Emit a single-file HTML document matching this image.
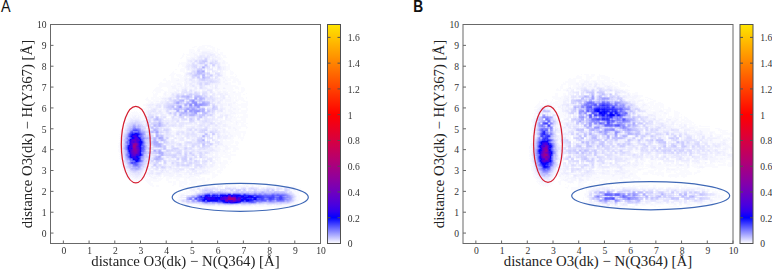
<!DOCTYPE html>
<html><head><meta charset="utf-8"><style>
html,body{margin:0;padding:0;background:#fff;width:772px;height:270px;overflow:hidden}
svg{display:block}
.tl{font-family:"Liberation Serif",serif;font-size:9.6px;fill:#333}
.at{font-family:"Liberation Serif",serif;font-size:14.8px;fill:#222}
.pl{font-family:"Liberation Sans",sans-serif;font-size:16px;fill:#111}
</style></head><body>
<svg width="772" height="270" viewBox="0 0 772 270">
<defs><linearGradient id="cbg" x1="0" y1="1" x2="0" y2="0"><stop offset="0.0000" stop-color="rgb(255,255,255)"/><stop offset="0.0294" stop-color="rgb(191,191,255)"/><stop offset="0.0588" stop-color="rgb(128,128,255)"/><stop offset="0.0882" stop-color="rgb(64,64,255)"/><stop offset="0.1176" stop-color="rgb(0,0,255)"/><stop offset="0.1471" stop-color="rgb(48,0,239)"/><stop offset="0.1765" stop-color="rgb(73,0,223)"/><stop offset="0.2059" stop-color="rgb(93,0,207)"/><stop offset="0.2353" stop-color="rgb(111,0,191)"/><stop offset="0.2647" stop-color="rgb(127,0,175)"/><stop offset="0.2941" stop-color="rgb(142,0,159)"/><stop offset="0.3235" stop-color="rgb(155,0,143)"/><stop offset="0.3529" stop-color="rgb(168,0,127)"/><stop offset="0.3824" stop-color="rgb(181,0,112)"/><stop offset="0.4118" stop-color="rgb(192,0,96)"/><stop offset="0.4412" stop-color="rgb(204,0,80)"/><stop offset="0.4706" stop-color="rgb(215,0,64)"/><stop offset="0.5000" stop-color="rgb(225,0,48)"/><stop offset="0.5294" stop-color="rgb(235,0,32)"/><stop offset="0.5588" stop-color="rgb(245,0,16)"/><stop offset="0.5882" stop-color="rgb(255,0,0)"/><stop offset="0.6176" stop-color="rgb(255,16,0)"/><stop offset="0.6471" stop-color="rgb(255,33,0)"/><stop offset="0.6765" stop-color="rgb(255,49,0)"/><stop offset="0.7059" stop-color="rgb(255,66,0)"/><stop offset="0.7353" stop-color="rgb(255,82,0)"/><stop offset="0.7647" stop-color="rgb(255,98,0)"/><stop offset="0.7941" stop-color="rgb(255,115,0)"/><stop offset="0.8235" stop-color="rgb(255,131,0)"/><stop offset="0.8529" stop-color="rgb(255,148,0)"/><stop offset="0.8824" stop-color="rgb(255,164,0)"/><stop offset="0.9118" stop-color="rgb(255,180,0)"/><stop offset="0.9412" stop-color="rgb(255,197,0)"/><stop offset="0.9706" stop-color="rgb(255,213,0)"/><stop offset="1.0000" stop-color="rgb(255,230,0)"/></linearGradient></defs>
<rect width="772" height="270" fill="#fff"/>
<defs><filter id="bl_16_16" x="-200%" y="-200%" width="500%" height="500%" color-interpolation-filters="sRGB"><feGaussianBlur stdDeviation="16 16"/></filter><filter id="bl_10_8" x="-200%" y="-200%" width="500%" height="500%" color-interpolation-filters="sRGB"><feGaussianBlur stdDeviation="10 8"/></filter><filter id="bl_8_8" x="-200%" y="-200%" width="500%" height="500%" color-interpolation-filters="sRGB"><feGaussianBlur stdDeviation="8 8"/></filter><filter id="bl_8_6" x="-200%" y="-200%" width="500%" height="500%" color-interpolation-filters="sRGB"><feGaussianBlur stdDeviation="8 6"/></filter><filter id="bl_5_5" x="-200%" y="-200%" width="500%" height="500%" color-interpolation-filters="sRGB"><feGaussianBlur stdDeviation="5 5"/></filter><filter id="bl_6_10" x="-200%" y="-200%" width="500%" height="500%" color-interpolation-filters="sRGB"><feGaussianBlur stdDeviation="6 10"/></filter><filter id="bl_5_0p01" x="-200%" y="-200%" width="500%" height="500%" color-interpolation-filters="sRGB"><feGaussianBlur stdDeviation="5 0.01"/></filter><filter id="bl_4_0p01" x="-200%" y="-200%" width="500%" height="500%" color-interpolation-filters="sRGB"><feGaussianBlur stdDeviation="4 0.01"/></filter><filter id="bl_6_0p01" x="-200%" y="-200%" width="500%" height="500%" color-interpolation-filters="sRGB"><feGaussianBlur stdDeviation="6 0.01"/></filter><filter id="bl_14_12" x="-200%" y="-200%" width="500%" height="500%" color-interpolation-filters="sRGB"><feGaussianBlur stdDeviation="14 12"/></filter><filter id="bl_16_12" x="-200%" y="-200%" width="500%" height="500%" color-interpolation-filters="sRGB"><feGaussianBlur stdDeviation="16 12"/></filter><filter id="bl_12_8" x="-200%" y="-200%" width="500%" height="500%" color-interpolation-filters="sRGB"><feGaussianBlur stdDeviation="12 8"/></filter><filter id="bl_10_10" x="-200%" y="-200%" width="500%" height="500%" color-interpolation-filters="sRGB"><feGaussianBlur stdDeviation="10 10"/></filter><filter id="bl_12_12" x="-200%" y="-200%" width="500%" height="500%" color-interpolation-filters="sRGB"><feGaussianBlur stdDeviation="12 12"/></filter><filter id="bl_9_8" x="-200%" y="-200%" width="500%" height="500%" color-interpolation-filters="sRGB"><feGaussianBlur stdDeviation="9 8"/></filter><filter id="bl_8_0p01" x="-200%" y="-200%" width="500%" height="500%" color-interpolation-filters="sRGB"><feGaussianBlur stdDeviation="8 0.01"/></filter></defs>
<defs><radialGradient id="a6"><stop offset="0.0000" stop-color="#fff" stop-opacity="0.3067"/><stop offset="0.0417" stop-color="#fff" stop-opacity="0.3059"/><stop offset="0.0833" stop-color="#fff" stop-opacity="0.3023"/><stop offset="0.1250" stop-color="#fff" stop-opacity="0.2947"/><stop offset="0.1667" stop-color="#fff" stop-opacity="0.2827"/><stop offset="0.2083" stop-color="#fff" stop-opacity="0.2660"/><stop offset="0.2500" stop-color="#fff" stop-opacity="0.2450"/><stop offset="0.2917" stop-color="#fff" stop-opacity="0.2205"/><stop offset="0.3333" stop-color="#fff" stop-opacity="0.1935"/><stop offset="0.3750" stop-color="#fff" stop-opacity="0.1653"/><stop offset="0.4167" stop-color="#fff" stop-opacity="0.1372"/><stop offset="0.4583" stop-color="#fff" stop-opacity="0.1105"/><stop offset="0.5000" stop-color="#fff" stop-opacity="0.0862"/><stop offset="0.5417" stop-color="#fff" stop-opacity="0.0651"/><stop offset="0.5833" stop-color="#fff" stop-opacity="0.0475"/><stop offset="0.6250" stop-color="#fff" stop-opacity="0.0334"/><stop offset="0.6667" stop-color="#fff" stop-opacity="0.0227"/><stop offset="0.7083" stop-color="#fff" stop-opacity="0.0148"/><stop offset="0.7500" stop-color="#fff" stop-opacity="0.0093"/><stop offset="0.7917" stop-color="#fff" stop-opacity="0.0056"/><stop offset="0.8333" stop-color="#fff" stop-opacity="0.0032"/><stop offset="0.8750" stop-color="#fff" stop-opacity="0.0018"/><stop offset="0.9167" stop-color="#fff" stop-opacity="0.0010"/><stop offset="0.9583" stop-color="#fff" stop-opacity="0.0005"/><stop offset="1.0000" stop-color="#fff" stop-opacity="0.0000"/></radialGradient><radialGradient id="a7"><stop offset="0.0000" stop-color="#fff" stop-opacity="0.4667"/><stop offset="0.0625" stop-color="#fff" stop-opacity="0.4585"/><stop offset="0.1250" stop-color="#fff" stop-opacity="0.4350"/><stop offset="0.1875" stop-color="#fff" stop-opacity="0.3984"/><stop offset="0.2500" stop-color="#fff" stop-opacity="0.3523"/><stop offset="0.3125" stop-color="#fff" stop-opacity="0.3007"/><stop offset="0.3750" stop-color="#fff" stop-opacity="0.2478"/><stop offset="0.4375" stop-color="#fff" stop-opacity="0.1972"/><stop offset="0.5000" stop-color="#fff" stop-opacity="0.1515"/><stop offset="0.5625" stop-color="#fff" stop-opacity="0.1124"/><stop offset="0.6250" stop-color="#fff" stop-opacity="0.0805"/><stop offset="0.6875" stop-color="#fff" stop-opacity="0.0556"/><stop offset="0.7500" stop-color="#fff" stop-opacity="0.0371"/><stop offset="0.8125" stop-color="#fff" stop-opacity="0.0239"/><stop offset="0.8750" stop-color="#fff" stop-opacity="0.0149"/><stop offset="0.9375" stop-color="#fff" stop-opacity="0.0089"/><stop offset="1.0000" stop-color="#fff" stop-opacity="0.0000"/></radialGradient><linearGradient id="a8" x1="0" y1="0" x2="0" y2="1"><stop offset="0.0000" stop-color="#fff" stop-opacity="0.0002"/><stop offset="0.0417" stop-color="#fff" stop-opacity="0.0009"/><stop offset="0.0833" stop-color="#fff" stop-opacity="0.0031"/><stop offset="0.1250" stop-color="#fff" stop-opacity="0.0089"/><stop offset="0.1667" stop-color="#fff" stop-opacity="0.0217"/><stop offset="0.2083" stop-color="#fff" stop-opacity="0.0454"/><stop offset="0.2500" stop-color="#fff" stop-opacity="0.0825"/><stop offset="0.2917" stop-color="#fff" stop-opacity="0.1312"/><stop offset="0.3333" stop-color="#fff" stop-opacity="0.1851"/><stop offset="0.3750" stop-color="#fff" stop-opacity="0.2344"/><stop offset="0.4167" stop-color="#fff" stop-opacity="0.2704"/><stop offset="0.4583" stop-color="#fff" stop-opacity="0.2891"/><stop offset="0.5000" stop-color="#fff" stop-opacity="0.2933"/><stop offset="0.5417" stop-color="#fff" stop-opacity="0.2891"/><stop offset="0.5833" stop-color="#fff" stop-opacity="0.2704"/><stop offset="0.6250" stop-color="#fff" stop-opacity="0.2344"/><stop offset="0.6667" stop-color="#fff" stop-opacity="0.1851"/><stop offset="0.7083" stop-color="#fff" stop-opacity="0.1312"/><stop offset="0.7500" stop-color="#fff" stop-opacity="0.0825"/><stop offset="0.7917" stop-color="#fff" stop-opacity="0.0454"/><stop offset="0.8333" stop-color="#fff" stop-opacity="0.0217"/><stop offset="0.8750" stop-color="#fff" stop-opacity="0.0089"/><stop offset="0.9167" stop-color="#fff" stop-opacity="0.0031"/><stop offset="0.9583" stop-color="#fff" stop-opacity="0.0009"/><stop offset="1.0000" stop-color="#fff" stop-opacity="0.0002"/></linearGradient><radialGradient id="a9"><stop offset="0.0000" stop-color="#fff" stop-opacity="0.5333"/><stop offset="0.0625" stop-color="#fff" stop-opacity="0.5240"/><stop offset="0.1250" stop-color="#fff" stop-opacity="0.4971"/><stop offset="0.1875" stop-color="#fff" stop-opacity="0.4553"/><stop offset="0.2500" stop-color="#fff" stop-opacity="0.4026"/><stop offset="0.3125" stop-color="#fff" stop-opacity="0.3437"/><stop offset="0.3750" stop-color="#fff" stop-opacity="0.2833"/><stop offset="0.4375" stop-color="#fff" stop-opacity="0.2254"/><stop offset="0.5000" stop-color="#fff" stop-opacity="0.1731"/><stop offset="0.5625" stop-color="#fff" stop-opacity="0.1284"/><stop offset="0.6250" stop-color="#fff" stop-opacity="0.0920"/><stop offset="0.6875" stop-color="#fff" stop-opacity="0.0636"/><stop offset="0.7500" stop-color="#fff" stop-opacity="0.0424"/><stop offset="0.8125" stop-color="#fff" stop-opacity="0.0273"/><stop offset="0.8750" stop-color="#fff" stop-opacity="0.0170"/><stop offset="0.9375" stop-color="#fff" stop-opacity="0.0102"/><stop offset="1.0000" stop-color="#fff" stop-opacity="0.0000"/></radialGradient><linearGradient id="a10" x1="0" y1="0" x2="0" y2="1"><stop offset="0.0000" stop-color="#fff" stop-opacity="0.0001"/><stop offset="0.0417" stop-color="#fff" stop-opacity="0.0005"/><stop offset="0.0833" stop-color="#fff" stop-opacity="0.0018"/><stop offset="0.1250" stop-color="#fff" stop-opacity="0.0050"/><stop offset="0.1667" stop-color="#fff" stop-opacity="0.0123"/><stop offset="0.2083" stop-color="#fff" stop-opacity="0.0258"/><stop offset="0.2500" stop-color="#fff" stop-opacity="0.0468"/><stop offset="0.2917" stop-color="#fff" stop-opacity="0.0746"/><stop offset="0.3333" stop-color="#fff" stop-opacity="0.1052"/><stop offset="0.3750" stop-color="#fff" stop-opacity="0.1332"/><stop offset="0.4167" stop-color="#fff" stop-opacity="0.1536"/><stop offset="0.4583" stop-color="#fff" stop-opacity="0.1643"/><stop offset="0.5000" stop-color="#fff" stop-opacity="0.1667"/><stop offset="0.5417" stop-color="#fff" stop-opacity="0.1643"/><stop offset="0.5833" stop-color="#fff" stop-opacity="0.1536"/><stop offset="0.6250" stop-color="#fff" stop-opacity="0.1332"/><stop offset="0.6667" stop-color="#fff" stop-opacity="0.1052"/><stop offset="0.7083" stop-color="#fff" stop-opacity="0.0746"/><stop offset="0.7500" stop-color="#fff" stop-opacity="0.0468"/><stop offset="0.7917" stop-color="#fff" stop-opacity="0.0258"/><stop offset="0.8333" stop-color="#fff" stop-opacity="0.0123"/><stop offset="0.8750" stop-color="#fff" stop-opacity="0.0050"/><stop offset="0.9167" stop-color="#fff" stop-opacity="0.0018"/><stop offset="0.9583" stop-color="#fff" stop-opacity="0.0005"/><stop offset="1.0000" stop-color="#fff" stop-opacity="0.0001"/></linearGradient><linearGradient id="a11" x1="0" y1="0" x2="0" y2="1"><stop offset="0.0000" stop-color="#fff" stop-opacity="0.0001"/><stop offset="0.0417" stop-color="#fff" stop-opacity="0.0004"/><stop offset="0.0833" stop-color="#fff" stop-opacity="0.0012"/><stop offset="0.1250" stop-color="#fff" stop-opacity="0.0036"/><stop offset="0.1667" stop-color="#fff" stop-opacity="0.0087"/><stop offset="0.2083" stop-color="#fff" stop-opacity="0.0183"/><stop offset="0.2500" stop-color="#fff" stop-opacity="0.0332"/><stop offset="0.2917" stop-color="#fff" stop-opacity="0.0529"/><stop offset="0.3333" stop-color="#fff" stop-opacity="0.0746"/><stop offset="0.3750" stop-color="#fff" stop-opacity="0.0945"/><stop offset="0.4167" stop-color="#fff" stop-opacity="0.1090"/><stop offset="0.4583" stop-color="#fff" stop-opacity="0.1166"/><stop offset="0.5000" stop-color="#fff" stop-opacity="0.1183"/><stop offset="0.5417" stop-color="#fff" stop-opacity="0.1166"/><stop offset="0.5833" stop-color="#fff" stop-opacity="0.1090"/><stop offset="0.6250" stop-color="#fff" stop-opacity="0.0945"/><stop offset="0.6667" stop-color="#fff" stop-opacity="0.0746"/><stop offset="0.7083" stop-color="#fff" stop-opacity="0.0529"/><stop offset="0.7500" stop-color="#fff" stop-opacity="0.0332"/><stop offset="0.7917" stop-color="#fff" stop-opacity="0.0183"/><stop offset="0.8333" stop-color="#fff" stop-opacity="0.0087"/><stop offset="0.8750" stop-color="#fff" stop-opacity="0.0036"/><stop offset="0.9167" stop-color="#fff" stop-opacity="0.0012"/><stop offset="0.9583" stop-color="#fff" stop-opacity="0.0004"/><stop offset="1.0000" stop-color="#fff" stop-opacity="0.0001"/></linearGradient><linearGradient id="a12" x1="0" y1="0" x2="0" y2="1"><stop offset="0.0000" stop-color="#fff" stop-opacity="0.0005"/><stop offset="0.0417" stop-color="#fff" stop-opacity="0.0011"/><stop offset="0.0833" stop-color="#fff" stop-opacity="0.0021"/><stop offset="0.1250" stop-color="#fff" stop-opacity="0.0038"/><stop offset="0.1667" stop-color="#fff" stop-opacity="0.0064"/><stop offset="0.2083" stop-color="#fff" stop-opacity="0.0102"/><stop offset="0.2500" stop-color="#fff" stop-opacity="0.0154"/><stop offset="0.2917" stop-color="#fff" stop-opacity="0.0217"/><stop offset="0.3333" stop-color="#fff" stop-opacity="0.0287"/><stop offset="0.3750" stop-color="#fff" stop-opacity="0.0357"/><stop offset="0.4167" stop-color="#fff" stop-opacity="0.0417"/><stop offset="0.4583" stop-color="#fff" stop-opacity="0.0458"/><stop offset="0.5000" stop-color="#fff" stop-opacity="0.0473"/><stop offset="0.5417" stop-color="#fff" stop-opacity="0.0458"/><stop offset="0.5833" stop-color="#fff" stop-opacity="0.0417"/><stop offset="0.6250" stop-color="#fff" stop-opacity="0.0357"/><stop offset="0.6667" stop-color="#fff" stop-opacity="0.0287"/><stop offset="0.7083" stop-color="#fff" stop-opacity="0.0217"/><stop offset="0.7500" stop-color="#fff" stop-opacity="0.0154"/><stop offset="0.7917" stop-color="#fff" stop-opacity="0.0102"/><stop offset="0.8333" stop-color="#fff" stop-opacity="0.0064"/><stop offset="0.8750" stop-color="#fff" stop-opacity="0.0038"/><stop offset="0.9167" stop-color="#fff" stop-opacity="0.0021"/><stop offset="0.9583" stop-color="#fff" stop-opacity="0.0011"/><stop offset="1.0000" stop-color="#fff" stop-opacity="0.0005"/></linearGradient><pattern id="nha" patternUnits="userSpaceOnUse" x="0" y="0" width="37" height="33" patternTransform="translate(50.5 24.5) scale(2.57143 2.08571)"><rect width="37" height="33" fill="#fff"/><path fill="rgb(0,0,0)" d="M6 0h1v1h-1zM25 0h1v1h-1zM1 2h1v1h-1zM3 2h1v1h-1zM13 2h1v1h-1zM18 2h1v1h-1zM2 3h1v1h-1zM5 3h1v1h-1zM15 3h1v1h-1zM30 3h1v1h-1zM36 4h1v1h-1zM18 5h1v1h-1zM25 5h1v1h-1zM11 6h1v1h-1zM21 6h1v1h-1zM6 8h1v1h-1zM9 8h1v1h-1zM14 8h1v1h-1zM23 8h1v1h-1zM5 10h1v1h-1zM15 11h1v1h-1zM2 13h1v1h-1zM34 13h1v1h-1zM12 14h1v1h-1zM20 14h1v1h-1zM16 15h1v1h-1zM0 16h1v1h-1zM10 16h1v1h-1zM15 16h1v1h-1zM22 16h1v1h-1zM10 17h1v1h-1zM11 17h1v1h-1zM14 17h1v1h-1zM24 17h1v1h-1zM19 18h1v1h-1zM6 19h1v1h-1zM10 19h1v1h-1zM25 19h1v1h-1zM15 21h1v1h-1zM11 22h1v1h-1zM23 22h1v1h-1zM25 22h1v1h-1zM36 22h1v1h-1zM14 23h1v1h-1zM7 24h1v1h-1zM8 25h1v1h-1zM16 25h1v1h-1zM32 25h1v1h-1zM19 26h1v1h-1zM7 27h1v1h-1zM4 29h1v1h-1zM24 29h1v1h-1zM26 29h1v1h-1zM7 30h1v1h-1zM20 30h1v1h-1zM21 31h1v1h-1z"/><path fill="rgb(16,16,16)" d="M5 0h1v1h-1zM21 0h1v1h-1zM0 1h1v1h-1zM28 1h1v1h-1zM31 1h1v1h-1zM11 2h1v1h-1zM8 3h1v1h-1zM16 3h1v1h-1zM3 4h1v1h-1zM15 4h1v1h-1zM14 5h1v1h-1zM14 6h1v1h-1zM22 6h1v1h-1zM23 6h1v1h-1zM24 6h1v1h-1zM25 6h1v1h-1zM28 6h1v1h-1zM1 7h1v1h-1zM5 7h1v1h-1zM23 7h1v1h-1zM33 7h1v1h-1zM4 8h1v1h-1zM10 8h1v1h-1zM11 8h1v1h-1zM16 8h1v1h-1zM27 8h1v1h-1zM30 8h1v1h-1zM7 9h1v1h-1zM21 9h1v1h-1zM8 11h1v1h-1zM9 11h1v1h-1zM24 11h1v1h-1zM27 11h1v1h-1zM30 11h1v1h-1zM7 12h1v1h-1zM19 12h1v1h-1zM30 12h1v1h-1zM13 13h1v1h-1zM15 13h1v1h-1zM16 13h1v1h-1zM30 14h1v1h-1zM33 14h1v1h-1zM15 15h1v1h-1zM17 15h1v1h-1zM11 16h1v1h-1zM14 16h1v1h-1zM19 16h1v1h-1zM25 16h1v1h-1zM30 16h1v1h-1zM31 16h1v1h-1zM6 17h1v1h-1zM12 17h1v1h-1zM15 17h1v1h-1zM28 17h1v1h-1zM31 17h1v1h-1zM23 18h1v1h-1zM34 18h1v1h-1zM0 19h1v1h-1zM2 19h1v1h-1zM3 19h1v1h-1zM22 19h1v1h-1zM24 19h1v1h-1zM29 19h1v1h-1zM3 20h1v1h-1zM11 20h1v1h-1zM14 20h1v1h-1zM25 20h1v1h-1zM10 21h1v1h-1zM23 21h1v1h-1zM26 21h1v1h-1zM16 22h1v1h-1zM28 22h1v1h-1zM30 22h1v1h-1zM14 24h1v1h-1zM36 24h1v1h-1zM2 25h1v1h-1zM11 25h1v1h-1zM26 25h1v1h-1zM36 25h1v1h-1zM5 26h1v1h-1zM8 26h1v1h-1zM2 27h1v1h-1zM6 27h1v1h-1zM14 27h1v1h-1zM32 27h1v1h-1zM10 28h1v1h-1zM14 28h1v1h-1zM1 29h1v1h-1zM14 29h1v1h-1zM23 29h1v1h-1zM36 29h1v1h-1zM2 30h1v1h-1zM6 30h1v1h-1zM18 30h1v1h-1zM24 30h1v1h-1zM8 31h1v1h-1zM16 31h1v1h-1zM26 31h1v1h-1zM34 31h1v1h-1zM13 32h1v1h-1zM32 32h1v1h-1z"/><path fill="rgb(32,32,32)" d="M15 0h1v1h-1zM1 1h1v1h-1zM18 1h1v1h-1zM34 1h1v1h-1zM14 2h1v1h-1zM17 2h1v1h-1zM0 4h1v1h-1zM9 4h1v1h-1zM17 4h1v1h-1zM20 4h1v1h-1zM26 4h1v1h-1zM35 4h1v1h-1zM27 5h1v1h-1zM3 6h1v1h-1zM6 6h1v1h-1zM36 6h1v1h-1zM6 7h1v1h-1zM7 8h1v1h-1zM13 8h1v1h-1zM35 8h1v1h-1zM12 9h1v1h-1zM20 9h1v1h-1zM27 9h1v1h-1zM8 10h1v1h-1zM12 10h1v1h-1zM34 10h1v1h-1zM36 10h1v1h-1zM13 12h1v1h-1zM16 12h1v1h-1zM21 12h1v1h-1zM29 12h1v1h-1zM19 13h1v1h-1zM20 13h1v1h-1zM26 13h1v1h-1zM28 13h1v1h-1zM18 14h1v1h-1zM27 14h1v1h-1zM2 15h1v1h-1zM19 15h1v1h-1zM29 15h1v1h-1zM3 16h1v1h-1zM5 16h1v1h-1zM7 16h1v1h-1zM9 16h1v1h-1zM12 16h1v1h-1zM27 16h1v1h-1zM13 17h1v1h-1zM36 17h1v1h-1zM11 18h1v1h-1zM17 18h1v1h-1zM7 19h1v1h-1zM20 19h1v1h-1zM21 19h1v1h-1zM27 20h1v1h-1zM9 21h1v1h-1zM27 21h1v1h-1zM34 21h1v1h-1zM12 22h1v1h-1zM15 22h1v1h-1zM24 22h1v1h-1zM6 23h1v1h-1zM13 23h1v1h-1zM25 23h1v1h-1zM26 23h1v1h-1zM36 23h1v1h-1zM21 24h1v1h-1zM23 24h1v1h-1zM33 24h1v1h-1zM19 25h1v1h-1zM21 25h1v1h-1zM25 25h1v1h-1zM28 25h1v1h-1zM29 25h1v1h-1zM3 26h1v1h-1zM4 26h1v1h-1zM9 26h1v1h-1zM33 26h1v1h-1zM36 26h1v1h-1zM17 27h1v1h-1zM33 28h1v1h-1zM0 29h1v1h-1zM20 29h1v1h-1zM28 29h1v1h-1zM36 30h1v1h-1zM11 31h1v1h-1zM20 31h1v1h-1zM29 31h1v1h-1zM6 32h1v1h-1zM27 32h1v1h-1z"/><path fill="rgb(48,48,48)" d="M0 0h1v1h-1zM8 0h1v1h-1zM9 0h1v1h-1zM2 1h1v1h-1zM24 1h1v1h-1zM34 2h1v1h-1zM19 3h1v1h-1zM34 3h1v1h-1zM36 3h1v1h-1zM14 4h1v1h-1zM6 5h1v1h-1zM13 5h1v1h-1zM35 5h1v1h-1zM20 7h1v1h-1zM31 7h1v1h-1zM34 8h1v1h-1zM36 8h1v1h-1zM29 9h1v1h-1zM32 9h1v1h-1zM4 10h1v1h-1zM27 10h1v1h-1zM28 10h1v1h-1zM33 10h1v1h-1zM35 10h1v1h-1zM3 11h1v1h-1zM19 11h1v1h-1zM2 12h1v1h-1zM36 12h1v1h-1zM4 13h1v1h-1zM31 13h1v1h-1zM32 13h1v1h-1zM32 14h1v1h-1zM18 15h1v1h-1zM36 15h1v1h-1zM1 16h1v1h-1zM6 16h1v1h-1zM24 16h1v1h-1zM1 17h1v1h-1zM2 17h1v1h-1zM18 17h1v1h-1zM7 18h1v1h-1zM24 18h1v1h-1zM5 19h1v1h-1zM11 19h1v1h-1zM13 19h1v1h-1zM27 19h1v1h-1zM31 19h1v1h-1zM7 20h1v1h-1zM20 20h1v1h-1zM26 20h1v1h-1zM9 22h1v1h-1zM17 22h1v1h-1zM32 22h1v1h-1zM35 22h1v1h-1zM5 23h1v1h-1zM34 24h1v1h-1zM0 25h1v1h-1zM1 25h1v1h-1zM17 25h1v1h-1zM13 26h1v1h-1zM29 26h1v1h-1zM0 27h1v1h-1zM1 27h1v1h-1zM19 28h1v1h-1zM34 28h1v1h-1zM16 30h1v1h-1zM25 30h1v1h-1zM33 30h1v1h-1zM7 31h1v1h-1zM13 31h1v1h-1zM19 31h1v1h-1zM30 31h1v1h-1zM31 31h1v1h-1zM35 31h1v1h-1zM1 32h1v1h-1zM3 32h1v1h-1zM21 32h1v1h-1z"/><path fill="rgb(64,64,64)" d="M24 0h1v1h-1zM6 1h1v1h-1zM27 1h1v1h-1zM35 1h1v1h-1zM5 2h1v1h-1zM10 2h1v1h-1zM20 2h1v1h-1zM35 2h1v1h-1zM22 3h1v1h-1zM24 3h1v1h-1zM27 3h1v1h-1zM33 3h1v1h-1zM4 4h1v1h-1zM21 4h1v1h-1zM27 4h1v1h-1zM29 4h1v1h-1zM11 5h1v1h-1zM16 5h1v1h-1zM28 5h1v1h-1zM15 6h1v1h-1zM16 6h1v1h-1zM30 6h1v1h-1zM31 6h1v1h-1zM0 7h1v1h-1zM31 8h1v1h-1zM28 9h1v1h-1zM31 9h1v1h-1zM35 9h1v1h-1zM3 10h1v1h-1zM10 10h1v1h-1zM5 11h1v1h-1zM11 11h1v1h-1zM25 11h1v1h-1zM35 11h1v1h-1zM22 12h1v1h-1zM28 12h1v1h-1zM14 13h1v1h-1zM7 14h1v1h-1zM36 14h1v1h-1zM25 15h1v1h-1zM33 16h1v1h-1zM0 17h1v1h-1zM25 17h1v1h-1zM29 17h1v1h-1zM10 18h1v1h-1zM7 21h1v1h-1zM12 21h1v1h-1zM17 21h1v1h-1zM22 21h1v1h-1zM24 21h1v1h-1zM35 21h1v1h-1zM4 22h1v1h-1zM8 22h1v1h-1zM31 22h1v1h-1zM12 23h1v1h-1zM0 24h1v1h-1zM11 24h1v1h-1zM26 24h1v1h-1zM27 24h1v1h-1zM30 24h1v1h-1zM32 24h1v1h-1zM9 25h1v1h-1zM12 25h1v1h-1zM14 25h1v1h-1zM2 26h1v1h-1zM18 26h1v1h-1zM19 27h1v1h-1zM22 27h1v1h-1zM29 27h1v1h-1zM31 27h1v1h-1zM0 28h1v1h-1zM26 28h1v1h-1zM2 29h1v1h-1zM3 29h1v1h-1zM19 29h1v1h-1zM29 29h1v1h-1zM12 30h1v1h-1zM29 30h1v1h-1zM34 30h1v1h-1zM10 31h1v1h-1zM18 32h1v1h-1z"/><path fill="rgb(80,80,80)" d="M2 0h1v1h-1zM32 0h1v1h-1zM8 1h1v1h-1zM9 1h1v1h-1zM23 2h1v1h-1zM12 3h1v1h-1zM23 3h1v1h-1zM25 3h1v1h-1zM28 3h1v1h-1zM5 4h1v1h-1zM10 4h1v1h-1zM25 4h1v1h-1zM30 4h1v1h-1zM12 5h1v1h-1zM34 5h1v1h-1zM2 6h1v1h-1zM32 6h1v1h-1zM35 6h1v1h-1zM4 7h1v1h-1zM7 7h1v1h-1zM10 7h1v1h-1zM14 7h1v1h-1zM28 7h1v1h-1zM2 9h1v1h-1zM3 9h1v1h-1zM5 9h1v1h-1zM7 10h1v1h-1zM9 10h1v1h-1zM12 11h1v1h-1zM16 11h1v1h-1zM22 11h1v1h-1zM32 11h1v1h-1zM9 12h1v1h-1zM35 12h1v1h-1zM0 13h1v1h-1zM6 13h1v1h-1zM7 13h1v1h-1zM11 13h1v1h-1zM1 14h1v1h-1zM31 14h1v1h-1zM8 15h1v1h-1zM32 15h1v1h-1zM33 15h1v1h-1zM29 16h1v1h-1zM5 17h1v1h-1zM32 17h1v1h-1zM33 17h1v1h-1zM5 18h1v1h-1zM15 18h1v1h-1zM32 18h1v1h-1zM33 18h1v1h-1zM0 20h1v1h-1zM12 20h1v1h-1zM21 20h1v1h-1zM23 20h1v1h-1zM19 21h1v1h-1zM33 21h1v1h-1zM2 22h1v1h-1zM27 22h1v1h-1zM31 23h1v1h-1zM16 24h1v1h-1zM24 24h1v1h-1zM31 24h1v1h-1zM35 25h1v1h-1zM0 26h1v1h-1zM6 26h1v1h-1zM14 26h1v1h-1zM20 26h1v1h-1zM21 27h1v1h-1zM23 27h1v1h-1zM35 27h1v1h-1zM16 28h1v1h-1zM18 28h1v1h-1zM25 28h1v1h-1zM29 28h1v1h-1zM35 28h1v1h-1zM16 29h1v1h-1zM25 29h1v1h-1zM30 29h1v1h-1zM17 30h1v1h-1zM2 31h1v1h-1zM23 31h1v1h-1zM28 31h1v1h-1zM33 31h1v1h-1zM8 32h1v1h-1zM24 32h1v1h-1zM29 32h1v1h-1z"/><path fill="rgb(96,96,96)" d="M34 0h1v1h-1zM4 1h1v1h-1zM33 1h1v1h-1zM15 2h1v1h-1zM32 2h1v1h-1zM3 3h1v1h-1zM20 3h1v1h-1zM1 4h1v1h-1zM7 4h1v1h-1zM13 4h1v1h-1zM31 4h1v1h-1zM32 4h1v1h-1zM33 4h1v1h-1zM3 5h1v1h-1zM31 5h1v1h-1zM18 6h1v1h-1zM13 7h1v1h-1zM17 7h1v1h-1zM24 7h1v1h-1zM25 7h1v1h-1zM4 9h1v1h-1zM6 9h1v1h-1zM10 9h1v1h-1zM25 9h1v1h-1zM0 10h1v1h-1zM23 10h1v1h-1zM6 11h1v1h-1zM17 11h1v1h-1zM8 13h1v1h-1zM21 13h1v1h-1zM27 13h1v1h-1zM23 14h1v1h-1zM12 15h1v1h-1zM23 15h1v1h-1zM28 15h1v1h-1zM8 16h1v1h-1zM16 16h1v1h-1zM17 16h1v1h-1zM20 16h1v1h-1zM21 16h1v1h-1zM6 18h1v1h-1zM29 18h1v1h-1zM35 18h1v1h-1zM15 19h1v1h-1zM2 20h1v1h-1zM17 20h1v1h-1zM24 20h1v1h-1zM35 20h1v1h-1zM4 21h1v1h-1zM18 21h1v1h-1zM25 21h1v1h-1zM26 22h1v1h-1zM34 22h1v1h-1zM0 23h1v1h-1zM23 23h1v1h-1zM30 23h1v1h-1zM32 23h1v1h-1zM34 23h1v1h-1zM2 24h1v1h-1zM26 26h1v1h-1zM4 27h1v1h-1zM16 27h1v1h-1zM2 28h1v1h-1zM8 28h1v1h-1zM11 28h1v1h-1zM22 28h1v1h-1zM28 28h1v1h-1zM12 29h1v1h-1zM32 29h1v1h-1zM35 29h1v1h-1zM3 30h1v1h-1zM9 30h1v1h-1zM13 30h1v1h-1zM9 31h1v1h-1zM18 31h1v1h-1zM27 31h1v1h-1zM36 31h1v1h-1zM12 32h1v1h-1z"/><path fill="rgb(112,112,112)" d="M11 0h1v1h-1zM13 0h1v1h-1zM27 0h1v1h-1zM7 1h1v1h-1zM8 2h1v1h-1zM24 2h1v1h-1zM31 2h1v1h-1zM10 3h1v1h-1zM0 6h1v1h-1zM19 6h1v1h-1zM29 6h1v1h-1zM15 7h1v1h-1zM19 7h1v1h-1zM32 7h1v1h-1zM25 8h1v1h-1zM8 9h1v1h-1zM16 9h1v1h-1zM17 9h1v1h-1zM24 9h1v1h-1zM6 10h1v1h-1zM14 10h1v1h-1zM16 10h1v1h-1zM20 10h1v1h-1zM26 10h1v1h-1zM18 11h1v1h-1zM8 12h1v1h-1zM27 12h1v1h-1zM3 13h1v1h-1zM9 14h1v1h-1zM15 14h1v1h-1zM17 14h1v1h-1zM21 14h1v1h-1zM14 15h1v1h-1zM20 15h1v1h-1zM26 15h1v1h-1zM4 16h1v1h-1zM13 16h1v1h-1zM26 16h1v1h-1zM35 16h1v1h-1zM20 17h1v1h-1zM9 18h1v1h-1zM16 18h1v1h-1zM20 18h1v1h-1zM30 19h1v1h-1zM9 20h1v1h-1zM13 20h1v1h-1zM2 21h1v1h-1zM36 21h1v1h-1zM5 22h1v1h-1zM19 22h1v1h-1zM9 23h1v1h-1zM18 23h1v1h-1zM10 24h1v1h-1zM17 24h1v1h-1zM13 25h1v1h-1zM16 26h1v1h-1zM24 26h1v1h-1zM20 27h1v1h-1zM33 27h1v1h-1zM3 28h1v1h-1zM27 28h1v1h-1zM17 29h1v1h-1zM31 29h1v1h-1zM8 30h1v1h-1zM26 30h1v1h-1zM22 31h1v1h-1zM16 32h1v1h-1zM26 32h1v1h-1zM35 32h1v1h-1z"/><path fill="rgb(128,128,128)" d="M1 0h1v1h-1zM18 0h1v1h-1zM22 1h1v1h-1zM26 1h1v1h-1zM25 2h1v1h-1zM28 2h1v1h-1zM0 3h1v1h-1zM1 3h1v1h-1zM31 3h1v1h-1zM16 4h1v1h-1zM10 5h1v1h-1zM30 5h1v1h-1zM4 6h1v1h-1zM17 6h1v1h-1zM2 7h1v1h-1zM21 7h1v1h-1zM3 8h1v1h-1zM32 8h1v1h-1zM19 10h1v1h-1zM23 11h1v1h-1zM6 12h1v1h-1zM12 12h1v1h-1zM25 12h1v1h-1zM33 12h1v1h-1zM9 13h1v1h-1zM29 13h1v1h-1zM30 13h1v1h-1zM2 14h1v1h-1zM16 14h1v1h-1zM19 14h1v1h-1zM24 14h1v1h-1zM34 14h1v1h-1zM22 15h1v1h-1zM34 15h1v1h-1zM3 18h1v1h-1zM1 19h1v1h-1zM14 19h1v1h-1zM19 19h1v1h-1zM8 20h1v1h-1zM15 20h1v1h-1zM34 20h1v1h-1zM13 21h1v1h-1zM0 22h1v1h-1zM1 22h1v1h-1zM13 22h1v1h-1zM14 22h1v1h-1zM29 22h1v1h-1zM11 23h1v1h-1zM24 23h1v1h-1zM29 23h1v1h-1zM1 24h1v1h-1zM8 24h1v1h-1zM9 24h1v1h-1zM3 25h1v1h-1zM15 25h1v1h-1zM34 25h1v1h-1zM23 26h1v1h-1zM25 26h1v1h-1zM27 26h1v1h-1zM12 27h1v1h-1zM15 27h1v1h-1zM4 28h1v1h-1zM7 28h1v1h-1zM20 28h1v1h-1zM5 29h1v1h-1zM7 29h1v1h-1zM22 30h1v1h-1zM23 30h1v1h-1zM28 30h1v1h-1zM32 30h1v1h-1zM0 31h1v1h-1zM0 32h1v1h-1zM9 32h1v1h-1zM33 32h1v1h-1zM36 32h1v1h-1z"/><path fill="rgb(143,143,143)" d="M3 0h1v1h-1zM4 0h1v1h-1zM16 0h1v1h-1zM23 0h1v1h-1zM5 1h1v1h-1zM10 1h1v1h-1zM11 1h1v1h-1zM2 2h1v1h-1zM12 2h1v1h-1zM16 2h1v1h-1zM27 2h1v1h-1zM29 2h1v1h-1zM4 3h1v1h-1zM6 3h1v1h-1zM7 3h1v1h-1zM9 3h1v1h-1zM21 3h1v1h-1zM26 3h1v1h-1zM15 5h1v1h-1zM24 5h1v1h-1zM33 5h1v1h-1zM12 6h1v1h-1zM34 6h1v1h-1zM8 7h1v1h-1zM12 7h1v1h-1zM5 8h1v1h-1zM21 8h1v1h-1zM0 9h1v1h-1zM30 9h1v1h-1zM2 10h1v1h-1zM15 10h1v1h-1zM13 11h1v1h-1zM20 11h1v1h-1zM15 12h1v1h-1zM24 12h1v1h-1zM25 13h1v1h-1zM3 14h1v1h-1zM4 14h1v1h-1zM10 14h1v1h-1zM29 14h1v1h-1zM4 15h1v1h-1zM35 15h1v1h-1zM28 16h1v1h-1zM4 17h1v1h-1zM9 17h1v1h-1zM26 17h1v1h-1zM13 18h1v1h-1zM9 19h1v1h-1zM17 19h1v1h-1zM33 19h1v1h-1zM1 20h1v1h-1zM5 20h1v1h-1zM19 20h1v1h-1zM32 20h1v1h-1zM1 23h1v1h-1zM22 23h1v1h-1zM6 24h1v1h-1zM6 25h1v1h-1zM30 26h1v1h-1zM18 27h1v1h-1zM24 27h1v1h-1zM9 28h1v1h-1zM32 28h1v1h-1zM36 28h1v1h-1zM22 29h1v1h-1zM33 29h1v1h-1zM14 30h1v1h-1zM1 31h1v1h-1zM5 32h1v1h-1zM10 32h1v1h-1zM11 32h1v1h-1zM17 32h1v1h-1zM31 32h1v1h-1z"/><path fill="rgb(159,159,159)" d="M14 0h1v1h-1zM20 0h1v1h-1zM13 1h1v1h-1zM17 1h1v1h-1zM26 2h1v1h-1zM11 3h1v1h-1zM17 3h1v1h-1zM11 4h1v1h-1zM23 4h1v1h-1zM9 5h1v1h-1zM29 5h1v1h-1zM33 6h1v1h-1zM35 7h1v1h-1zM1 8h1v1h-1zM18 8h1v1h-1zM13 9h1v1h-1zM15 9h1v1h-1zM18 9h1v1h-1zM33 9h1v1h-1zM30 10h1v1h-1zM14 11h1v1h-1zM26 11h1v1h-1zM36 11h1v1h-1zM0 12h1v1h-1zM5 12h1v1h-1zM11 12h1v1h-1zM14 12h1v1h-1zM18 12h1v1h-1zM26 12h1v1h-1zM6 14h1v1h-1zM14 14h1v1h-1zM22 14h1v1h-1zM24 15h1v1h-1zM7 17h1v1h-1zM16 17h1v1h-1zM34 17h1v1h-1zM22 18h1v1h-1zM26 18h1v1h-1zM4 19h1v1h-1zM8 19h1v1h-1zM34 19h1v1h-1zM18 20h1v1h-1zM14 21h1v1h-1zM2 23h1v1h-1zM15 23h1v1h-1zM19 23h1v1h-1zM27 23h1v1h-1zM15 24h1v1h-1zM20 24h1v1h-1zM23 25h1v1h-1zM24 25h1v1h-1zM11 27h1v1h-1zM36 27h1v1h-1zM30 28h1v1h-1zM13 29h1v1h-1zM34 29h1v1h-1zM1 30h1v1h-1zM19 30h1v1h-1zM31 30h1v1h-1zM4 32h1v1h-1zM20 32h1v1h-1z"/><path fill="rgb(175,175,175)" d="M19 0h1v1h-1zM28 0h1v1h-1zM30 0h1v1h-1zM23 1h1v1h-1zM4 2h1v1h-1zM33 2h1v1h-1zM13 3h1v1h-1zM14 3h1v1h-1zM32 3h1v1h-1zM2 4h1v1h-1zM7 5h1v1h-1zM20 5h1v1h-1zM26 5h1v1h-1zM3 7h1v1h-1zM16 7h1v1h-1zM18 7h1v1h-1zM22 7h1v1h-1zM2 8h1v1h-1zM26 8h1v1h-1zM28 8h1v1h-1zM11 9h1v1h-1zM22 9h1v1h-1zM26 9h1v1h-1zM36 9h1v1h-1zM21 10h1v1h-1zM24 10h1v1h-1zM29 10h1v1h-1zM0 11h1v1h-1zM7 11h1v1h-1zM10 12h1v1h-1zM23 12h1v1h-1zM31 12h1v1h-1zM34 12h1v1h-1zM18 13h1v1h-1zM22 13h1v1h-1zM24 13h1v1h-1zM11 14h1v1h-1zM1 15h1v1h-1zM6 15h1v1h-1zM7 15h1v1h-1zM21 15h1v1h-1zM31 15h1v1h-1zM18 16h1v1h-1zM32 16h1v1h-1zM0 18h1v1h-1zM1 18h1v1h-1zM12 18h1v1h-1zM14 18h1v1h-1zM18 18h1v1h-1zM31 18h1v1h-1zM10 20h1v1h-1zM16 20h1v1h-1zM29 20h1v1h-1zM11 21h1v1h-1zM16 21h1v1h-1zM20 21h1v1h-1zM21 21h1v1h-1zM29 21h1v1h-1zM12 24h1v1h-1zM4 25h1v1h-1zM17 26h1v1h-1zM21 26h1v1h-1zM34 27h1v1h-1zM24 28h1v1h-1zM8 29h1v1h-1zM6 31h1v1h-1zM32 31h1v1h-1zM2 32h1v1h-1zM28 32h1v1h-1zM30 32h1v1h-1z"/><path fill="rgb(191,191,191)" d="M22 0h1v1h-1zM33 0h1v1h-1zM32 1h1v1h-1zM36 1h1v1h-1zM29 3h1v1h-1zM35 3h1v1h-1zM18 4h1v1h-1zM24 4h1v1h-1zM28 4h1v1h-1zM1 6h1v1h-1zM7 6h1v1h-1zM9 6h1v1h-1zM20 6h1v1h-1zM9 7h1v1h-1zM11 7h1v1h-1zM30 7h1v1h-1zM0 8h1v1h-1zM8 8h1v1h-1zM22 8h1v1h-1zM24 8h1v1h-1zM1 9h1v1h-1zM14 9h1v1h-1zM11 10h1v1h-1zM33 11h1v1h-1zM34 11h1v1h-1zM1 12h1v1h-1zM3 12h1v1h-1zM32 12h1v1h-1zM5 13h1v1h-1zM10 13h1v1h-1zM17 13h1v1h-1zM33 13h1v1h-1zM35 13h1v1h-1zM13 14h1v1h-1zM28 14h1v1h-1zM9 15h1v1h-1zM13 15h1v1h-1zM27 15h1v1h-1zM2 16h1v1h-1zM34 16h1v1h-1zM21 17h1v1h-1zM8 18h1v1h-1zM21 18h1v1h-1zM16 19h1v1h-1zM18 19h1v1h-1zM35 19h1v1h-1zM3 21h1v1h-1zM28 21h1v1h-1zM10 22h1v1h-1zM18 22h1v1h-1zM21 22h1v1h-1zM33 22h1v1h-1zM7 23h1v1h-1zM8 23h1v1h-1zM33 23h1v1h-1zM27 25h1v1h-1zM22 26h1v1h-1zM9 27h1v1h-1zM13 27h1v1h-1zM13 28h1v1h-1zM4 30h1v1h-1zM3 31h1v1h-1zM7 32h1v1h-1zM14 32h1v1h-1z"/><path fill="rgb(207,207,207)" d="M7 0h1v1h-1zM12 0h1v1h-1zM15 1h1v1h-1zM19 1h1v1h-1zM25 1h1v1h-1zM29 1h1v1h-1zM6 4h1v1h-1zM8 4h1v1h-1zM19 4h1v1h-1zM22 4h1v1h-1zM8 5h1v1h-1zM17 5h1v1h-1zM36 5h1v1h-1zM5 6h1v1h-1zM10 6h1v1h-1zM13 6h1v1h-1zM27 6h1v1h-1zM34 7h1v1h-1zM15 8h1v1h-1zM17 8h1v1h-1zM19 8h1v1h-1zM33 8h1v1h-1zM1 10h1v1h-1zM17 10h1v1h-1zM18 10h1v1h-1zM22 10h1v1h-1zM32 10h1v1h-1zM1 11h1v1h-1zM10 11h1v1h-1zM12 13h1v1h-1zM23 13h1v1h-1zM8 14h1v1h-1zM3 15h1v1h-1zM11 15h1v1h-1zM3 17h1v1h-1zM30 17h1v1h-1zM2 18h1v1h-1zM25 18h1v1h-1zM23 19h1v1h-1zM32 19h1v1h-1zM4 20h1v1h-1zM6 20h1v1h-1zM3 22h1v1h-1zM7 22h1v1h-1zM4 23h1v1h-1zM10 23h1v1h-1zM21 23h1v1h-1zM3 24h1v1h-1zM4 24h1v1h-1zM25 24h1v1h-1zM5 25h1v1h-1zM7 25h1v1h-1zM30 25h1v1h-1zM28 26h1v1h-1zM32 26h1v1h-1zM35 26h1v1h-1zM27 27h1v1h-1zM28 27h1v1h-1zM12 28h1v1h-1zM15 28h1v1h-1zM9 29h1v1h-1zM10 29h1v1h-1zM21 29h1v1h-1zM27 29h1v1h-1zM11 30h1v1h-1zM27 30h1v1h-1zM5 31h1v1h-1zM14 31h1v1h-1zM24 31h1v1h-1zM25 31h1v1h-1zM15 32h1v1h-1zM22 32h1v1h-1zM34 32h1v1h-1z"/><path fill="rgb(223,223,223)" d="M17 0h1v1h-1zM26 0h1v1h-1zM29 0h1v1h-1zM36 0h1v1h-1zM12 1h1v1h-1zM21 1h1v1h-1zM0 2h1v1h-1zM6 2h1v1h-1zM19 2h1v1h-1zM22 2h1v1h-1zM12 4h1v1h-1zM1 5h1v1h-1zM19 5h1v1h-1zM22 5h1v1h-1zM23 5h1v1h-1zM26 7h1v1h-1zM29 7h1v1h-1zM36 7h1v1h-1zM12 8h1v1h-1zM19 9h1v1h-1zM23 9h1v1h-1zM2 11h1v1h-1zM4 11h1v1h-1zM28 11h1v1h-1zM29 11h1v1h-1zM17 12h1v1h-1zM1 13h1v1h-1zM36 13h1v1h-1zM26 14h1v1h-1zM0 15h1v1h-1zM30 15h1v1h-1zM17 17h1v1h-1zM22 17h1v1h-1zM27 18h1v1h-1zM28 18h1v1h-1zM30 18h1v1h-1zM28 19h1v1h-1zM36 19h1v1h-1zM30 20h1v1h-1zM0 21h1v1h-1zM32 21h1v1h-1zM6 22h1v1h-1zM3 23h1v1h-1zM16 23h1v1h-1zM17 23h1v1h-1zM13 24h1v1h-1zM18 24h1v1h-1zM20 25h1v1h-1zM31 25h1v1h-1zM7 26h1v1h-1zM5 27h1v1h-1zM8 27h1v1h-1zM5 28h1v1h-1zM21 28h1v1h-1zM23 28h1v1h-1zM31 28h1v1h-1zM11 29h1v1h-1zM15 29h1v1h-1zM18 29h1v1h-1zM10 30h1v1h-1zM15 30h1v1h-1zM35 30h1v1h-1zM4 31h1v1h-1zM12 31h1v1h-1zM17 31h1v1h-1zM19 32h1v1h-1z"/><path fill="rgb(239,239,239)" d="M31 0h1v1h-1zM35 0h1v1h-1zM3 1h1v1h-1zM14 1h1v1h-1zM20 1h1v1h-1zM21 2h1v1h-1zM30 2h1v1h-1zM18 3h1v1h-1zM34 4h1v1h-1zM0 5h1v1h-1zM4 5h1v1h-1zM5 5h1v1h-1zM21 5h1v1h-1zM32 5h1v1h-1zM8 6h1v1h-1zM27 7h1v1h-1zM20 8h1v1h-1zM29 8h1v1h-1zM34 9h1v1h-1zM25 10h1v1h-1zM31 10h1v1h-1zM21 11h1v1h-1zM31 11h1v1h-1zM4 12h1v1h-1zM20 12h1v1h-1zM0 14h1v1h-1zM25 14h1v1h-1zM35 14h1v1h-1zM5 15h1v1h-1zM10 15h1v1h-1zM23 16h1v1h-1zM36 16h1v1h-1zM8 17h1v1h-1zM23 17h1v1h-1zM27 17h1v1h-1zM35 17h1v1h-1zM4 18h1v1h-1zM36 18h1v1h-1zM12 19h1v1h-1zM26 19h1v1h-1zM28 20h1v1h-1zM33 20h1v1h-1zM36 20h1v1h-1zM1 21h1v1h-1zM6 21h1v1h-1zM8 21h1v1h-1zM20 23h1v1h-1zM35 23h1v1h-1zM5 24h1v1h-1zM19 24h1v1h-1zM22 24h1v1h-1zM28 24h1v1h-1zM29 24h1v1h-1zM10 25h1v1h-1zM18 25h1v1h-1zM33 25h1v1h-1zM10 26h1v1h-1zM15 26h1v1h-1zM31 26h1v1h-1zM34 26h1v1h-1zM26 27h1v1h-1zM1 28h1v1h-1zM6 29h1v1h-1zM21 30h1v1h-1zM15 31h1v1h-1z"/></pattern><pattern id="nca" patternUnits="userSpaceOnUse" x="0" y="0" width="37" height="33" patternTransform="translate(50.5 24.5) scale(2.57143 2.08571)"><rect width="37" height="33" fill="#fff"/><path fill="rgb(128,128,128)" d="M15 0h1v1h-1zM31 1h1v1h-1zM19 2h1v1h-1zM28 2h1v1h-1zM16 3h1v1h-1zM18 3h1v1h-1zM25 3h1v1h-1zM30 3h1v1h-1zM23 4h1v1h-1zM25 4h1v1h-1zM19 5h1v1h-1zM36 5h1v1h-1zM0 6h1v1h-1zM4 6h1v1h-1zM8 7h1v1h-1zM19 7h1v1h-1zM31 7h1v1h-1zM7 8h1v1h-1zM4 9h1v1h-1zM23 9h1v1h-1zM28 9h1v1h-1zM27 10h1v1h-1zM30 10h1v1h-1zM5 11h1v1h-1zM28 11h1v1h-1zM29 12h1v1h-1zM0 13h1v1h-1zM22 13h1v1h-1zM24 13h1v1h-1zM3 14h1v1h-1zM6 14h1v1h-1zM20 14h1v1h-1zM21 15h1v1h-1zM25 15h1v1h-1zM5 16h1v1h-1zM17 16h1v1h-1zM28 16h1v1h-1zM33 16h1v1h-1zM0 17h1v1h-1zM4 17h1v1h-1zM13 18h1v1h-1zM32 18h1v1h-1zM33 18h1v1h-1zM21 19h1v1h-1zM25 19h1v1h-1zM6 20h1v1h-1zM9 20h1v1h-1zM19 20h1v1h-1zM27 20h1v1h-1zM36 20h1v1h-1zM12 23h1v1h-1zM2 25h1v1h-1zM9 25h1v1h-1zM18 25h1v1h-1zM7 26h1v1h-1zM23 26h1v1h-1zM31 26h1v1h-1zM0 27h1v1h-1zM5 27h1v1h-1zM21 27h1v1h-1zM35 28h1v1h-1zM5 29h1v1h-1zM9 29h1v1h-1zM12 30h1v1h-1zM18 30h1v1h-1zM23 30h1v1h-1zM35 30h1v1h-1zM0 31h1v1h-1zM18 32h1v1h-1zM22 32h1v1h-1zM27 32h1v1h-1zM30 32h1v1h-1z"/><path fill="rgb(143,143,143)" d="M5 0h1v1h-1zM7 0h1v1h-1zM11 0h1v1h-1zM12 0h1v1h-1zM17 0h1v1h-1zM18 0h1v1h-1zM20 0h1v1h-1zM7 1h1v1h-1zM10 1h1v1h-1zM12 1h1v1h-1zM15 1h1v1h-1zM29 1h1v1h-1zM16 2h1v1h-1zM27 2h1v1h-1zM31 2h1v1h-1zM9 3h1v1h-1zM29 3h1v1h-1zM15 4h1v1h-1zM34 4h1v1h-1zM7 5h1v1h-1zM9 5h1v1h-1zM20 5h1v1h-1zM32 5h1v1h-1zM1 7h1v1h-1zM7 7h1v1h-1zM9 7h1v1h-1zM12 7h1v1h-1zM26 7h1v1h-1zM30 7h1v1h-1zM36 7h1v1h-1zM8 8h1v1h-1zM15 8h1v1h-1zM29 8h1v1h-1zM32 8h1v1h-1zM35 8h1v1h-1zM19 9h1v1h-1zM34 9h1v1h-1zM35 9h1v1h-1zM2 10h1v1h-1zM6 10h1v1h-1zM7 10h1v1h-1zM13 10h1v1h-1zM22 10h1v1h-1zM25 10h1v1h-1zM29 10h1v1h-1zM2 11h1v1h-1zM15 11h1v1h-1zM21 11h1v1h-1zM33 11h1v1h-1zM0 12h1v1h-1zM2 12h1v1h-1zM4 12h1v1h-1zM14 12h1v1h-1zM16 12h1v1h-1zM32 12h1v1h-1zM35 12h1v1h-1zM9 13h1v1h-1zM12 13h1v1h-1zM15 13h1v1h-1zM20 13h1v1h-1zM21 13h1v1h-1zM27 13h1v1h-1zM29 13h1v1h-1zM4 14h1v1h-1zM21 14h1v1h-1zM33 14h1v1h-1zM0 15h1v1h-1zM3 15h1v1h-1zM4 15h1v1h-1zM6 15h1v1h-1zM33 15h1v1h-1zM22 16h1v1h-1zM25 16h1v1h-1zM27 16h1v1h-1zM29 16h1v1h-1zM31 16h1v1h-1zM35 16h1v1h-1zM36 16h1v1h-1zM2 17h1v1h-1zM3 17h1v1h-1zM6 17h1v1h-1zM9 17h1v1h-1zM13 17h1v1h-1zM35 17h1v1h-1zM1 18h1v1h-1zM5 18h1v1h-1zM10 18h1v1h-1zM17 18h1v1h-1zM23 18h1v1h-1zM30 18h1v1h-1zM0 19h1v1h-1zM6 19h1v1h-1zM9 19h1v1h-1zM14 19h1v1h-1zM24 19h1v1h-1zM27 19h1v1h-1zM16 20h1v1h-1zM18 20h1v1h-1zM20 20h1v1h-1zM34 20h1v1h-1zM5 21h1v1h-1zM12 21h1v1h-1zM16 21h1v1h-1zM24 21h1v1h-1zM30 21h1v1h-1zM31 21h1v1h-1zM32 21h1v1h-1zM3 22h1v1h-1zM8 22h1v1h-1zM20 22h1v1h-1zM21 22h1v1h-1zM24 22h1v1h-1zM26 22h1v1h-1zM27 22h1v1h-1zM5 23h1v1h-1zM25 23h1v1h-1zM30 23h1v1h-1zM32 23h1v1h-1zM1 24h1v1h-1zM2 24h1v1h-1zM7 24h1v1h-1zM8 24h1v1h-1zM12 24h1v1h-1zM13 24h1v1h-1zM14 24h1v1h-1zM19 24h1v1h-1zM25 24h1v1h-1zM30 24h1v1h-1zM10 25h1v1h-1zM16 25h1v1h-1zM24 25h1v1h-1zM35 25h1v1h-1zM3 26h1v1h-1zM5 26h1v1h-1zM21 26h1v1h-1zM8 27h1v1h-1zM10 27h1v1h-1zM2 28h1v1h-1zM13 28h1v1h-1zM18 28h1v1h-1zM10 29h1v1h-1zM17 29h1v1h-1zM36 29h1v1h-1zM8 30h1v1h-1zM13 30h1v1h-1zM9 31h1v1h-1zM12 31h1v1h-1zM15 31h1v1h-1zM19 31h1v1h-1zM28 31h1v1h-1zM31 31h1v1h-1zM35 31h1v1h-1zM1 32h1v1h-1zM4 32h1v1h-1zM6 32h1v1h-1zM32 32h1v1h-1z"/><path fill="rgb(159,159,159)" d="M4 0h1v1h-1zM13 0h1v1h-1zM16 0h1v1h-1zM28 0h1v1h-1zM34 0h1v1h-1zM35 0h1v1h-1zM36 0h1v1h-1zM5 1h1v1h-1zM9 1h1v1h-1zM22 1h1v1h-1zM0 2h1v1h-1zM14 2h1v1h-1zM33 2h1v1h-1zM35 2h1v1h-1zM2 3h1v1h-1zM20 3h1v1h-1zM24 3h1v1h-1zM0 4h1v1h-1zM1 4h1v1h-1zM8 4h1v1h-1zM16 4h1v1h-1zM19 4h1v1h-1zM24 4h1v1h-1zM33 4h1v1h-1zM2 5h1v1h-1zM11 5h1v1h-1zM31 5h1v1h-1zM33 5h1v1h-1zM5 6h1v1h-1zM9 6h1v1h-1zM11 6h1v1h-1zM12 6h1v1h-1zM14 6h1v1h-1zM15 6h1v1h-1zM16 6h1v1h-1zM24 6h1v1h-1zM25 6h1v1h-1zM32 6h1v1h-1zM0 7h1v1h-1zM11 7h1v1h-1zM20 7h1v1h-1zM24 7h1v1h-1zM25 7h1v1h-1zM5 8h1v1h-1zM11 8h1v1h-1zM12 8h1v1h-1zM18 8h1v1h-1zM25 8h1v1h-1zM36 8h1v1h-1zM2 9h1v1h-1zM27 9h1v1h-1zM16 10h1v1h-1zM17 11h1v1h-1zM25 11h1v1h-1zM21 12h1v1h-1zM24 12h1v1h-1zM26 12h1v1h-1zM5 13h1v1h-1zM11 13h1v1h-1zM13 13h1v1h-1zM18 13h1v1h-1zM32 13h1v1h-1zM0 14h1v1h-1zM5 14h1v1h-1zM18 14h1v1h-1zM22 14h1v1h-1zM26 14h1v1h-1zM35 14h1v1h-1zM8 15h1v1h-1zM22 15h1v1h-1zM28 15h1v1h-1zM31 15h1v1h-1zM1 16h1v1h-1zM2 16h1v1h-1zM13 16h1v1h-1zM14 16h1v1h-1zM16 16h1v1h-1zM24 16h1v1h-1zM26 16h1v1h-1zM34 16h1v1h-1zM17 17h1v1h-1zM18 17h1v1h-1zM21 17h1v1h-1zM22 17h1v1h-1zM28 17h1v1h-1zM31 17h1v1h-1zM28 18h1v1h-1zM29 18h1v1h-1zM2 19h1v1h-1zM26 19h1v1h-1zM4 20h1v1h-1zM17 20h1v1h-1zM2 21h1v1h-1zM13 21h1v1h-1zM22 21h1v1h-1zM23 21h1v1h-1zM25 21h1v1h-1zM0 22h1v1h-1zM6 22h1v1h-1zM7 22h1v1h-1zM19 22h1v1h-1zM4 23h1v1h-1zM13 23h1v1h-1zM15 23h1v1h-1zM23 23h1v1h-1zM0 24h1v1h-1zM18 24h1v1h-1zM21 24h1v1h-1zM29 24h1v1h-1zM31 24h1v1h-1zM4 25h1v1h-1zM5 25h1v1h-1zM11 25h1v1h-1zM13 25h1v1h-1zM14 25h1v1h-1zM19 25h1v1h-1zM23 25h1v1h-1zM31 25h1v1h-1zM4 26h1v1h-1zM13 26h1v1h-1zM17 26h1v1h-1zM25 26h1v1h-1zM16 27h1v1h-1zM23 27h1v1h-1zM24 27h1v1h-1zM25 27h1v1h-1zM29 27h1v1h-1zM6 28h1v1h-1zM12 28h1v1h-1zM16 28h1v1h-1zM23 28h1v1h-1zM29 28h1v1h-1zM36 28h1v1h-1zM4 29h1v1h-1zM6 29h1v1h-1zM22 29h1v1h-1zM25 29h1v1h-1zM30 29h1v1h-1zM0 30h1v1h-1zM28 30h1v1h-1zM33 30h1v1h-1zM34 30h1v1h-1zM36 30h1v1h-1zM5 31h1v1h-1zM6 31h1v1h-1zM13 31h1v1h-1zM36 31h1v1h-1zM3 32h1v1h-1zM10 32h1v1h-1zM17 32h1v1h-1zM31 32h1v1h-1zM36 32h1v1h-1z"/><path fill="rgb(175,175,175)" d="M8 0h1v1h-1zM21 0h1v1h-1zM24 0h1v1h-1zM29 0h1v1h-1zM8 1h1v1h-1zM25 1h1v1h-1zM1 2h1v1h-1zM4 2h1v1h-1zM6 2h1v1h-1zM9 2h1v1h-1zM17 2h1v1h-1zM24 2h1v1h-1zM25 2h1v1h-1zM32 2h1v1h-1zM1 3h1v1h-1zM4 3h1v1h-1zM6 3h1v1h-1zM8 3h1v1h-1zM19 3h1v1h-1zM2 4h1v1h-1zM30 4h1v1h-1zM31 4h1v1h-1zM32 4h1v1h-1zM36 4h1v1h-1zM4 5h1v1h-1zM5 5h1v1h-1zM8 5h1v1h-1zM22 5h1v1h-1zM30 5h1v1h-1zM3 6h1v1h-1zM10 7h1v1h-1zM13 7h1v1h-1zM14 7h1v1h-1zM28 7h1v1h-1zM32 7h1v1h-1zM0 8h1v1h-1zM1 8h1v1h-1zM3 8h1v1h-1zM20 8h1v1h-1zM22 8h1v1h-1zM23 8h1v1h-1zM13 9h1v1h-1zM16 9h1v1h-1zM25 9h1v1h-1zM36 9h1v1h-1zM4 10h1v1h-1zM9 10h1v1h-1zM12 10h1v1h-1zM28 10h1v1h-1zM8 11h1v1h-1zM31 11h1v1h-1zM6 12h1v1h-1zM7 12h1v1h-1zM23 12h1v1h-1zM1 13h1v1h-1zM4 13h1v1h-1zM8 13h1v1h-1zM30 13h1v1h-1zM36 13h1v1h-1zM10 14h1v1h-1zM11 14h1v1h-1zM23 14h1v1h-1zM34 14h1v1h-1zM36 14h1v1h-1zM2 15h1v1h-1zM10 15h1v1h-1zM11 15h1v1h-1zM19 15h1v1h-1zM7 17h1v1h-1zM10 17h1v1h-1zM20 17h1v1h-1zM27 17h1v1h-1zM30 17h1v1h-1zM12 18h1v1h-1zM21 18h1v1h-1zM15 19h1v1h-1zM16 19h1v1h-1zM17 19h1v1h-1zM22 19h1v1h-1zM29 19h1v1h-1zM32 19h1v1h-1zM12 20h1v1h-1zM3 21h1v1h-1zM4 21h1v1h-1zM8 21h1v1h-1zM9 21h1v1h-1zM18 21h1v1h-1zM35 21h1v1h-1zM9 22h1v1h-1zM11 22h1v1h-1zM13 22h1v1h-1zM15 22h1v1h-1zM29 22h1v1h-1zM30 22h1v1h-1zM33 22h1v1h-1zM0 23h1v1h-1zM3 23h1v1h-1zM14 23h1v1h-1zM19 23h1v1h-1zM27 23h1v1h-1zM28 23h1v1h-1zM33 23h1v1h-1zM34 23h1v1h-1zM17 24h1v1h-1zM1 25h1v1h-1zM3 25h1v1h-1zM6 25h1v1h-1zM27 25h1v1h-1zM33 25h1v1h-1zM34 25h1v1h-1zM24 26h1v1h-1zM26 26h1v1h-1zM35 26h1v1h-1zM20 27h1v1h-1zM27 27h1v1h-1zM28 27h1v1h-1zM35 27h1v1h-1zM4 28h1v1h-1zM11 28h1v1h-1zM17 28h1v1h-1zM25 28h1v1h-1zM26 28h1v1h-1zM30 28h1v1h-1zM1 29h1v1h-1zM7 29h1v1h-1zM15 29h1v1h-1zM23 29h1v1h-1zM28 29h1v1h-1zM33 29h1v1h-1zM11 31h1v1h-1zM14 31h1v1h-1zM30 31h1v1h-1zM2 32h1v1h-1zM8 32h1v1h-1zM16 32h1v1h-1zM26 32h1v1h-1zM29 32h1v1h-1z"/><path fill="rgb(191,191,191)" d="M1 0h1v1h-1zM19 0h1v1h-1zM33 0h1v1h-1zM3 1h1v1h-1zM6 1h1v1h-1zM16 1h1v1h-1zM23 1h1v1h-1zM27 1h1v1h-1zM30 1h1v1h-1zM34 1h1v1h-1zM5 2h1v1h-1zM7 2h1v1h-1zM12 2h1v1h-1zM3 3h1v1h-1zM13 3h1v1h-1zM17 3h1v1h-1zM21 3h1v1h-1zM28 3h1v1h-1zM32 3h1v1h-1zM7 4h1v1h-1zM11 4h1v1h-1zM21 4h1v1h-1zM27 4h1v1h-1zM0 5h1v1h-1zM3 5h1v1h-1zM13 5h1v1h-1zM15 5h1v1h-1zM1 6h1v1h-1zM2 6h1v1h-1zM21 6h1v1h-1zM26 6h1v1h-1zM27 6h1v1h-1zM2 7h1v1h-1zM5 7h1v1h-1zM6 7h1v1h-1zM27 7h1v1h-1zM29 7h1v1h-1zM19 8h1v1h-1zM34 8h1v1h-1zM11 9h1v1h-1zM21 9h1v1h-1zM29 9h1v1h-1zM32 9h1v1h-1zM5 10h1v1h-1zM11 10h1v1h-1zM14 10h1v1h-1zM15 10h1v1h-1zM18 10h1v1h-1zM31 10h1v1h-1zM3 11h1v1h-1zM4 11h1v1h-1zM10 11h1v1h-1zM12 11h1v1h-1zM14 11h1v1h-1zM24 11h1v1h-1zM26 11h1v1h-1zM27 11h1v1h-1zM36 11h1v1h-1zM1 12h1v1h-1zM3 12h1v1h-1zM5 12h1v1h-1zM9 12h1v1h-1zM11 12h1v1h-1zM15 12h1v1h-1zM17 12h1v1h-1zM18 12h1v1h-1zM34 12h1v1h-1zM2 13h1v1h-1zM6 13h1v1h-1zM7 13h1v1h-1zM1 14h1v1h-1zM9 14h1v1h-1zM14 14h1v1h-1zM32 14h1v1h-1zM5 15h1v1h-1zM13 15h1v1h-1zM18 15h1v1h-1zM27 15h1v1h-1zM0 16h1v1h-1zM4 16h1v1h-1zM9 16h1v1h-1zM30 16h1v1h-1zM1 17h1v1h-1zM14 17h1v1h-1zM16 17h1v1h-1zM0 18h1v1h-1zM3 18h1v1h-1zM4 18h1v1h-1zM6 18h1v1h-1zM7 18h1v1h-1zM35 18h1v1h-1zM1 19h1v1h-1zM8 19h1v1h-1zM10 19h1v1h-1zM13 19h1v1h-1zM2 20h1v1h-1zM13 20h1v1h-1zM29 20h1v1h-1zM35 20h1v1h-1zM6 21h1v1h-1zM17 21h1v1h-1zM28 21h1v1h-1zM18 22h1v1h-1zM23 22h1v1h-1zM32 22h1v1h-1zM36 22h1v1h-1zM16 23h1v1h-1zM20 23h1v1h-1zM31 23h1v1h-1zM3 24h1v1h-1zM6 24h1v1h-1zM15 24h1v1h-1zM20 24h1v1h-1zM23 24h1v1h-1zM27 24h1v1h-1zM34 24h1v1h-1zM35 24h1v1h-1zM36 24h1v1h-1zM15 25h1v1h-1zM17 25h1v1h-1zM21 25h1v1h-1zM26 25h1v1h-1zM0 26h1v1h-1zM1 26h1v1h-1zM6 26h1v1h-1zM9 26h1v1h-1zM20 26h1v1h-1zM33 26h1v1h-1zM3 27h1v1h-1zM4 27h1v1h-1zM9 27h1v1h-1zM14 27h1v1h-1zM17 27h1v1h-1zM22 27h1v1h-1zM31 27h1v1h-1zM36 27h1v1h-1zM3 28h1v1h-1zM8 28h1v1h-1zM22 28h1v1h-1zM24 28h1v1h-1zM28 28h1v1h-1zM2 29h1v1h-1zM24 29h1v1h-1zM26 29h1v1h-1zM27 29h1v1h-1zM1 30h1v1h-1zM6 30h1v1h-1zM10 30h1v1h-1zM11 30h1v1h-1zM16 30h1v1h-1zM17 30h1v1h-1zM19 30h1v1h-1zM25 30h1v1h-1zM32 30h1v1h-1zM12 32h1v1h-1zM25 32h1v1h-1z"/><path fill="rgb(207,207,207)" d="M6 0h1v1h-1zM26 0h1v1h-1zM30 0h1v1h-1zM32 0h1v1h-1zM19 1h1v1h-1zM24 1h1v1h-1zM32 1h1v1h-1zM35 1h1v1h-1zM36 1h1v1h-1zM2 2h1v1h-1zM3 2h1v1h-1zM8 2h1v1h-1zM10 2h1v1h-1zM20 2h1v1h-1zM23 2h1v1h-1zM26 2h1v1h-1zM30 2h1v1h-1zM5 3h1v1h-1zM12 3h1v1h-1zM22 3h1v1h-1zM6 4h1v1h-1zM9 4h1v1h-1zM10 4h1v1h-1zM17 4h1v1h-1zM29 4h1v1h-1zM35 4h1v1h-1zM6 5h1v1h-1zM10 5h1v1h-1zM14 5h1v1h-1zM18 5h1v1h-1zM24 5h1v1h-1zM28 5h1v1h-1zM35 5h1v1h-1zM10 6h1v1h-1zM18 6h1v1h-1zM19 6h1v1h-1zM29 6h1v1h-1zM31 6h1v1h-1zM35 6h1v1h-1zM3 7h1v1h-1zM34 7h1v1h-1zM35 7h1v1h-1zM2 8h1v1h-1zM14 8h1v1h-1zM17 8h1v1h-1zM21 8h1v1h-1zM6 9h1v1h-1zM20 9h1v1h-1zM22 9h1v1h-1zM30 9h1v1h-1zM0 10h1v1h-1zM3 10h1v1h-1zM8 10h1v1h-1zM20 10h1v1h-1zM24 10h1v1h-1zM26 10h1v1h-1zM36 10h1v1h-1zM0 11h1v1h-1zM7 11h1v1h-1zM18 11h1v1h-1zM30 11h1v1h-1zM8 12h1v1h-1zM12 12h1v1h-1zM25 12h1v1h-1zM33 12h1v1h-1zM16 13h1v1h-1zM17 13h1v1h-1zM23 13h1v1h-1zM25 13h1v1h-1zM26 13h1v1h-1zM2 14h1v1h-1zM15 14h1v1h-1zM17 14h1v1h-1zM24 14h1v1h-1zM31 14h1v1h-1zM7 15h1v1h-1zM9 15h1v1h-1zM15 15h1v1h-1zM20 15h1v1h-1zM30 15h1v1h-1zM10 16h1v1h-1zM11 16h1v1h-1zM18 16h1v1h-1zM12 17h1v1h-1zM23 17h1v1h-1zM25 17h1v1h-1zM26 17h1v1h-1zM29 17h1v1h-1zM25 18h1v1h-1zM26 18h1v1h-1zM34 18h1v1h-1zM19 19h1v1h-1zM20 19h1v1h-1zM28 19h1v1h-1zM5 20h1v1h-1zM8 20h1v1h-1zM11 20h1v1h-1zM21 20h1v1h-1zM22 20h1v1h-1zM31 20h1v1h-1zM33 20h1v1h-1zM15 21h1v1h-1zM19 21h1v1h-1zM26 21h1v1h-1zM27 21h1v1h-1zM34 21h1v1h-1zM4 22h1v1h-1zM5 22h1v1h-1zM14 22h1v1h-1zM16 22h1v1h-1zM17 22h1v1h-1zM22 22h1v1h-1zM31 22h1v1h-1zM35 22h1v1h-1zM1 23h1v1h-1zM9 23h1v1h-1zM10 23h1v1h-1zM11 23h1v1h-1zM22 23h1v1h-1zM24 23h1v1h-1zM4 24h1v1h-1zM9 24h1v1h-1zM22 24h1v1h-1zM24 24h1v1h-1zM26 24h1v1h-1zM28 24h1v1h-1zM32 24h1v1h-1zM22 25h1v1h-1zM28 25h1v1h-1zM14 26h1v1h-1zM15 26h1v1h-1zM18 26h1v1h-1zM32 26h1v1h-1zM34 26h1v1h-1zM18 27h1v1h-1zM30 27h1v1h-1zM32 27h1v1h-1zM5 28h1v1h-1zM7 28h1v1h-1zM9 28h1v1h-1zM10 28h1v1h-1zM14 28h1v1h-1zM20 28h1v1h-1zM32 28h1v1h-1zM8 29h1v1h-1zM11 29h1v1h-1zM13 29h1v1h-1zM14 29h1v1h-1zM4 30h1v1h-1zM9 30h1v1h-1zM15 30h1v1h-1zM21 30h1v1h-1zM26 30h1v1h-1zM29 30h1v1h-1zM4 31h1v1h-1zM10 31h1v1h-1zM18 31h1v1h-1zM21 31h1v1h-1zM29 31h1v1h-1zM32 31h1v1h-1zM9 32h1v1h-1zM14 32h1v1h-1zM19 32h1v1h-1zM20 32h1v1h-1zM21 32h1v1h-1z"/><path fill="rgb(223,223,223)" d="M2 0h1v1h-1zM3 0h1v1h-1zM22 0h1v1h-1zM23 0h1v1h-1zM25 0h1v1h-1zM4 1h1v1h-1zM14 1h1v1h-1zM20 1h1v1h-1zM21 1h1v1h-1zM28 1h1v1h-1zM36 2h1v1h-1zM0 3h1v1h-1zM7 3h1v1h-1zM10 3h1v1h-1zM27 3h1v1h-1zM34 3h1v1h-1zM35 3h1v1h-1zM36 3h1v1h-1zM3 4h1v1h-1zM4 4h1v1h-1zM5 4h1v1h-1zM12 4h1v1h-1zM18 4h1v1h-1zM22 4h1v1h-1zM26 4h1v1h-1zM1 5h1v1h-1zM17 5h1v1h-1zM21 5h1v1h-1zM26 5h1v1h-1zM7 6h1v1h-1zM23 6h1v1h-1zM28 6h1v1h-1zM30 6h1v1h-1zM33 6h1v1h-1zM36 6h1v1h-1zM4 7h1v1h-1zM18 7h1v1h-1zM22 7h1v1h-1zM4 8h1v1h-1zM6 8h1v1h-1zM9 8h1v1h-1zM24 8h1v1h-1zM27 8h1v1h-1zM31 8h1v1h-1zM1 9h1v1h-1zM5 9h1v1h-1zM9 9h1v1h-1zM14 9h1v1h-1zM15 9h1v1h-1zM18 9h1v1h-1zM24 9h1v1h-1zM26 9h1v1h-1zM31 9h1v1h-1zM1 10h1v1h-1zM19 10h1v1h-1zM33 10h1v1h-1zM35 10h1v1h-1zM9 11h1v1h-1zM11 11h1v1h-1zM16 11h1v1h-1zM20 11h1v1h-1zM13 12h1v1h-1zM36 12h1v1h-1zM3 13h1v1h-1zM19 13h1v1h-1zM31 13h1v1h-1zM33 13h1v1h-1zM34 13h1v1h-1zM35 13h1v1h-1zM7 14h1v1h-1zM13 14h1v1h-1zM16 15h1v1h-1zM17 15h1v1h-1zM23 15h1v1h-1zM26 15h1v1h-1zM34 15h1v1h-1zM35 15h1v1h-1zM36 15h1v1h-1zM3 16h1v1h-1zM6 16h1v1h-1zM7 16h1v1h-1zM8 16h1v1h-1zM12 16h1v1h-1zM19 16h1v1h-1zM32 16h1v1h-1zM8 17h1v1h-1zM32 17h1v1h-1zM36 17h1v1h-1zM2 18h1v1h-1zM14 18h1v1h-1zM15 18h1v1h-1zM16 18h1v1h-1zM18 18h1v1h-1zM27 18h1v1h-1zM31 18h1v1h-1zM3 19h1v1h-1zM7 19h1v1h-1zM11 19h1v1h-1zM12 19h1v1h-1zM23 19h1v1h-1zM31 19h1v1h-1zM23 20h1v1h-1zM25 20h1v1h-1zM30 20h1v1h-1zM32 20h1v1h-1zM1 21h1v1h-1zM7 21h1v1h-1zM11 21h1v1h-1zM21 21h1v1h-1zM29 21h1v1h-1zM33 21h1v1h-1zM10 22h1v1h-1zM12 22h1v1h-1zM25 22h1v1h-1zM8 23h1v1h-1zM18 23h1v1h-1zM26 23h1v1h-1zM29 23h1v1h-1zM36 23h1v1h-1zM10 24h1v1h-1zM16 24h1v1h-1zM7 25h1v1h-1zM12 25h1v1h-1zM29 25h1v1h-1zM30 25h1v1h-1zM19 26h1v1h-1zM22 26h1v1h-1zM36 26h1v1h-1zM12 27h1v1h-1zM15 27h1v1h-1zM33 27h1v1h-1zM1 28h1v1h-1zM27 28h1v1h-1zM31 28h1v1h-1zM34 28h1v1h-1zM0 29h1v1h-1zM3 29h1v1h-1zM12 29h1v1h-1zM18 29h1v1h-1zM19 29h1v1h-1zM20 29h1v1h-1zM31 29h1v1h-1zM32 29h1v1h-1zM3 30h1v1h-1zM5 30h1v1h-1zM14 30h1v1h-1zM30 30h1v1h-1zM2 31h1v1h-1zM20 31h1v1h-1zM22 31h1v1h-1zM24 31h1v1h-1zM25 31h1v1h-1zM26 31h1v1h-1zM34 31h1v1h-1zM5 32h1v1h-1zM11 32h1v1h-1zM13 32h1v1h-1zM23 32h1v1h-1z"/><path fill="rgb(239,239,239)" d="M9 0h1v1h-1zM10 0h1v1h-1zM14 0h1v1h-1zM27 0h1v1h-1zM1 1h1v1h-1zM2 1h1v1h-1zM11 1h1v1h-1zM13 1h1v1h-1zM26 1h1v1h-1zM33 1h1v1h-1zM11 2h1v1h-1zM15 2h1v1h-1zM18 2h1v1h-1zM21 2h1v1h-1zM29 2h1v1h-1zM34 2h1v1h-1zM11 3h1v1h-1zM14 3h1v1h-1zM15 3h1v1h-1zM23 3h1v1h-1zM31 3h1v1h-1zM33 3h1v1h-1zM20 4h1v1h-1zM16 5h1v1h-1zM25 5h1v1h-1zM34 5h1v1h-1zM6 6h1v1h-1zM8 6h1v1h-1zM17 6h1v1h-1zM20 6h1v1h-1zM22 6h1v1h-1zM15 7h1v1h-1zM16 7h1v1h-1zM23 7h1v1h-1zM33 7h1v1h-1zM10 8h1v1h-1zM26 8h1v1h-1zM30 8h1v1h-1zM33 8h1v1h-1zM3 9h1v1h-1zM7 9h1v1h-1zM8 9h1v1h-1zM10 9h1v1h-1zM12 9h1v1h-1zM17 9h1v1h-1zM33 9h1v1h-1zM21 10h1v1h-1zM32 10h1v1h-1zM34 10h1v1h-1zM6 11h1v1h-1zM13 11h1v1h-1zM19 11h1v1h-1zM22 11h1v1h-1zM29 11h1v1h-1zM32 11h1v1h-1zM34 11h1v1h-1zM35 11h1v1h-1zM10 12h1v1h-1zM19 12h1v1h-1zM22 12h1v1h-1zM28 12h1v1h-1zM31 12h1v1h-1zM10 13h1v1h-1zM12 14h1v1h-1zM16 14h1v1h-1zM19 14h1v1h-1zM25 14h1v1h-1zM27 14h1v1h-1zM29 14h1v1h-1zM30 14h1v1h-1zM12 15h1v1h-1zM14 15h1v1h-1zM24 15h1v1h-1zM29 15h1v1h-1zM32 15h1v1h-1zM15 16h1v1h-1zM20 16h1v1h-1zM5 17h1v1h-1zM11 17h1v1h-1zM15 17h1v1h-1zM19 17h1v1h-1zM24 17h1v1h-1zM33 17h1v1h-1zM34 17h1v1h-1zM8 18h1v1h-1zM9 18h1v1h-1zM11 18h1v1h-1zM19 18h1v1h-1zM22 18h1v1h-1zM24 18h1v1h-1zM30 19h1v1h-1zM33 19h1v1h-1zM34 19h1v1h-1zM0 20h1v1h-1zM15 20h1v1h-1zM24 20h1v1h-1zM26 20h1v1h-1zM0 21h1v1h-1zM10 21h1v1h-1zM14 21h1v1h-1zM20 21h1v1h-1zM36 21h1v1h-1zM1 22h1v1h-1zM2 22h1v1h-1zM28 22h1v1h-1zM2 23h1v1h-1zM6 23h1v1h-1zM17 23h1v1h-1zM21 23h1v1h-1zM5 24h1v1h-1zM11 24h1v1h-1zM33 24h1v1h-1zM0 25h1v1h-1zM20 25h1v1h-1zM25 25h1v1h-1zM32 25h1v1h-1zM2 26h1v1h-1zM8 26h1v1h-1zM10 26h1v1h-1zM11 26h1v1h-1zM12 26h1v1h-1zM16 26h1v1h-1zM27 26h1v1h-1zM29 26h1v1h-1zM30 26h1v1h-1zM1 27h1v1h-1zM2 27h1v1h-1zM6 27h1v1h-1zM7 27h1v1h-1zM13 27h1v1h-1zM19 27h1v1h-1zM26 27h1v1h-1zM34 27h1v1h-1zM0 28h1v1h-1zM15 28h1v1h-1zM19 28h1v1h-1zM33 28h1v1h-1zM16 29h1v1h-1zM29 29h1v1h-1zM34 29h1v1h-1zM35 29h1v1h-1zM2 30h1v1h-1zM7 30h1v1h-1zM22 30h1v1h-1zM24 30h1v1h-1zM27 30h1v1h-1zM1 31h1v1h-1zM7 31h1v1h-1zM8 31h1v1h-1zM16 31h1v1h-1zM17 31h1v1h-1zM23 31h1v1h-1zM27 31h1v1h-1zM33 31h1v1h-1zM0 32h1v1h-1zM7 32h1v1h-1zM15 32h1v1h-1zM24 32h1v1h-1zM34 32h1v1h-1zM35 32h1v1h-1z"/></pattern><filter id="cma" x="0" y="0" width="1" height="1" color-interpolation-filters="sRGB"><feComponentTransfer><feFuncR type="table" tableValues="1.0000 0.7500 0.5000 0.2500 0.0000 0.1895 0.2872 0.3663 0.4353 0.4976 0.5552 0.6090 0.6598 0.7081 0.7543 0.7987 0.8415 0.8829 0.9230 0.9620 1.0000"/><feFuncG type="table" tableValues="1.0000 0.7500 0.5000 0.2500 0.0000 0.0000 0.0000 0.0000 0.0000 0.0000 0.0000 0.0000 0.0000 0.0000 0.0000 0.0000 0.0000 0.0000 0.0000 0.0000 0.0000"/><feFuncB type="table" tableValues="1.0000 1.0000 1.0000 1.0000 1.0000 0.9375 0.8750 0.8125 0.7500 0.6875 0.6250 0.5625 0.5000 0.4375 0.3750 0.3125 0.2500 0.1875 0.1250 0.0625 0.0000"/></feComponentTransfer></filter><clipPath id="cpa"><rect x="50.5" y="24.5" width="270" height="219"/></clipPath></defs>
<g clip-path="url(#cpa)"><g filter="url(#cma)"><rect x="50.5" y="24.5" width="270" height="219" fill="#000"/>
<defs><mask id="mha" maskUnits="userSpaceOnUse" x="50.5" y="24.5" width="270" height="219"><rect x="50.5" y="24.5" width="270" height="219" fill="url(#nha)"/></mask><mask id="mca" maskUnits="userSpaceOnUse" x="50.5" y="24.5" width="270" height="219"><rect x="50.5" y="24.5" width="270" height="219" fill="url(#nca)"/></mask></defs>
<g mask="url(#mha)"><ellipse cx="194.00" cy="124.00" rx="28.00" ry="46.00" fill="#fff" fill-opacity="0.0344" filter="url(#bl_16_16)" transform="rotate(25 194 124)"/><ellipse cx="185.00" cy="160.00" rx="32.00" ry="12.00" fill="#fff" fill-opacity="0.0301" filter="url(#bl_10_8)"/><ellipse cx="204.00" cy="70.00" rx="13.00" ry="12.00" fill="#fff" fill-opacity="0.0860" filter="url(#bl_8_8)"/><ellipse cx="190.00" cy="106.00" rx="21.00" ry="9.00" fill="#fff" fill-opacity="0.1075" filter="url(#bl_8_6)"/><ellipse cx="208.00" cy="139.00" rx="7.00" ry="6.00" fill="#fff" fill-opacity="0.0860" filter="url(#bl_5_5)"/><ellipse cx="156.00" cy="140.00" rx="8.00" ry="32.00" fill="#fff" fill-opacity="0.0860" filter="url(#bl_6_10)"/><rect x="184.00" y="190.00" width="16.00" height="17.60" fill="url(#a11)" filter="url(#bl_4_0p01)"/><rect x="195.00" y="183.40" width="97.00" height="13.20" fill="url(#a12)" filter="url(#bl_6_0p01)"/></g>
<g mask="url(#mca)"><ellipse cx="135.40" cy="147.30" rx="19.58" ry="41.36" fill="url(#a6)"/><ellipse cx="134.60" cy="146.50" rx="8.10" ry="18.60" fill="url(#a7)"/><rect x="200.00" y="188.18" width="55.00" height="20.24" fill="url(#a8)" filter="url(#bl_5_0p01)"/><ellipse cx="231.00" cy="199.20" rx="14.40" ry="6.30" fill="url(#a9)"/><rect x="253.00" y="186.80" width="37.00" height="22.00" fill="url(#a10)" filter="url(#bl_5_0p01)"/></g>
</g></g>
<defs><radialGradient id="b6"><stop offset="0.0000" stop-color="#fff" stop-opacity="0.1467"/><stop offset="0.0625" stop-color="#fff" stop-opacity="0.1441"/><stop offset="0.1250" stop-color="#fff" stop-opacity="0.1367"/><stop offset="0.1875" stop-color="#fff" stop-opacity="0.1252"/><stop offset="0.2500" stop-color="#fff" stop-opacity="0.1107"/><stop offset="0.3125" stop-color="#fff" stop-opacity="0.0945"/><stop offset="0.3750" stop-color="#fff" stop-opacity="0.0779"/><stop offset="0.4375" stop-color="#fff" stop-opacity="0.0620"/><stop offset="0.5000" stop-color="#fff" stop-opacity="0.0476"/><stop offset="0.5625" stop-color="#fff" stop-opacity="0.0353"/><stop offset="0.6250" stop-color="#fff" stop-opacity="0.0253"/><stop offset="0.6875" stop-color="#fff" stop-opacity="0.0175"/><stop offset="0.7500" stop-color="#fff" stop-opacity="0.0117"/><stop offset="0.8125" stop-color="#fff" stop-opacity="0.0075"/><stop offset="0.8750" stop-color="#fff" stop-opacity="0.0047"/><stop offset="0.9375" stop-color="#fff" stop-opacity="0.0028"/><stop offset="1.0000" stop-color="#fff" stop-opacity="0.0000"/></radialGradient><radialGradient id="b7"><stop offset="0.0000" stop-color="#fff" stop-opacity="0.3067"/><stop offset="0.0417" stop-color="#fff" stop-opacity="0.3059"/><stop offset="0.0833" stop-color="#fff" stop-opacity="0.3023"/><stop offset="0.1250" stop-color="#fff" stop-opacity="0.2947"/><stop offset="0.1667" stop-color="#fff" stop-opacity="0.2827"/><stop offset="0.2083" stop-color="#fff" stop-opacity="0.2660"/><stop offset="0.2500" stop-color="#fff" stop-opacity="0.2450"/><stop offset="0.2917" stop-color="#fff" stop-opacity="0.2205"/><stop offset="0.3333" stop-color="#fff" stop-opacity="0.1935"/><stop offset="0.3750" stop-color="#fff" stop-opacity="0.1653"/><stop offset="0.4167" stop-color="#fff" stop-opacity="0.1372"/><stop offset="0.4583" stop-color="#fff" stop-opacity="0.1105"/><stop offset="0.5000" stop-color="#fff" stop-opacity="0.0862"/><stop offset="0.5417" stop-color="#fff" stop-opacity="0.0651"/><stop offset="0.5833" stop-color="#fff" stop-opacity="0.0475"/><stop offset="0.6250" stop-color="#fff" stop-opacity="0.0334"/><stop offset="0.6667" stop-color="#fff" stop-opacity="0.0227"/><stop offset="0.7083" stop-color="#fff" stop-opacity="0.0148"/><stop offset="0.7500" stop-color="#fff" stop-opacity="0.0093"/><stop offset="0.7917" stop-color="#fff" stop-opacity="0.0056"/><stop offset="0.8333" stop-color="#fff" stop-opacity="0.0032"/><stop offset="0.8750" stop-color="#fff" stop-opacity="0.0018"/><stop offset="0.9167" stop-color="#fff" stop-opacity="0.0010"/><stop offset="0.9583" stop-color="#fff" stop-opacity="0.0005"/><stop offset="1.0000" stop-color="#fff" stop-opacity="0.0000"/></radialGradient><radialGradient id="b8"><stop offset="0.0000" stop-color="#fff" stop-opacity="0.5067"/><stop offset="0.0625" stop-color="#fff" stop-opacity="0.4978"/><stop offset="0.1250" stop-color="#fff" stop-opacity="0.4723"/><stop offset="0.1875" stop-color="#fff" stop-opacity="0.4325"/><stop offset="0.2500" stop-color="#fff" stop-opacity="0.3825"/><stop offset="0.3125" stop-color="#fff" stop-opacity="0.3265"/><stop offset="0.3750" stop-color="#fff" stop-opacity="0.2691"/><stop offset="0.4375" stop-color="#fff" stop-opacity="0.2141"/><stop offset="0.5000" stop-color="#fff" stop-opacity="0.1645"/><stop offset="0.5625" stop-color="#fff" stop-opacity="0.1220"/><stop offset="0.6250" stop-color="#fff" stop-opacity="0.0874"/><stop offset="0.6875" stop-color="#fff" stop-opacity="0.0604"/><stop offset="0.7500" stop-color="#fff" stop-opacity="0.0403"/><stop offset="0.8125" stop-color="#fff" stop-opacity="0.0260"/><stop offset="0.8750" stop-color="#fff" stop-opacity="0.0162"/><stop offset="0.9375" stop-color="#fff" stop-opacity="0.0097"/><stop offset="1.0000" stop-color="#fff" stop-opacity="0.0000"/></radialGradient><radialGradient id="b9"><stop offset="0.0000" stop-color="#fff" stop-opacity="0.1828"/><stop offset="0.0417" stop-color="#fff" stop-opacity="0.1818"/><stop offset="0.0833" stop-color="#fff" stop-opacity="0.1784"/><stop offset="0.1250" stop-color="#fff" stop-opacity="0.1724"/><stop offset="0.1667" stop-color="#fff" stop-opacity="0.1637"/><stop offset="0.2083" stop-color="#fff" stop-opacity="0.1527"/><stop offset="0.2500" stop-color="#fff" stop-opacity="0.1397"/><stop offset="0.2917" stop-color="#fff" stop-opacity="0.1254"/><stop offset="0.3333" stop-color="#fff" stop-opacity="0.1102"/><stop offset="0.3750" stop-color="#fff" stop-opacity="0.0949"/><stop offset="0.4167" stop-color="#fff" stop-opacity="0.0800"/><stop offset="0.4583" stop-color="#fff" stop-opacity="0.0660"/><stop offset="0.5000" stop-color="#fff" stop-opacity="0.0532"/><stop offset="0.5417" stop-color="#fff" stop-opacity="0.0420"/><stop offset="0.5833" stop-color="#fff" stop-opacity="0.0324"/><stop offset="0.6250" stop-color="#fff" stop-opacity="0.0244"/><stop offset="0.6667" stop-color="#fff" stop-opacity="0.0179"/><stop offset="0.7083" stop-color="#fff" stop-opacity="0.0129"/><stop offset="0.7500" stop-color="#fff" stop-opacity="0.0090"/><stop offset="0.7917" stop-color="#fff" stop-opacity="0.0062"/><stop offset="0.8333" stop-color="#fff" stop-opacity="0.0041"/><stop offset="0.8750" stop-color="#fff" stop-opacity="0.0027"/><stop offset="0.9167" stop-color="#fff" stop-opacity="0.0017"/><stop offset="0.9583" stop-color="#fff" stop-opacity="0.0010"/><stop offset="1.0000" stop-color="#fff" stop-opacity="0.0000"/></radialGradient><linearGradient id="b10" x1="0" y1="0" x2="0" y2="1"><stop offset="0.0000" stop-color="#fff" stop-opacity="0.0004"/><stop offset="0.0417" stop-color="#fff" stop-opacity="0.0010"/><stop offset="0.0833" stop-color="#fff" stop-opacity="0.0024"/><stop offset="0.1250" stop-color="#fff" stop-opacity="0.0053"/><stop offset="0.1667" stop-color="#fff" stop-opacity="0.0105"/><stop offset="0.2083" stop-color="#fff" stop-opacity="0.0190"/><stop offset="0.2500" stop-color="#fff" stop-opacity="0.0313"/><stop offset="0.2917" stop-color="#fff" stop-opacity="0.0471"/><stop offset="0.3333" stop-color="#fff" stop-opacity="0.0648"/><stop offset="0.3750" stop-color="#fff" stop-opacity="0.0822"/><stop offset="0.4167" stop-color="#fff" stop-opacity="0.0963"/><stop offset="0.4583" stop-color="#fff" stop-opacity="0.1050"/><stop offset="0.5000" stop-color="#fff" stop-opacity="0.1075"/><stop offset="0.5417" stop-color="#fff" stop-opacity="0.1050"/><stop offset="0.5833" stop-color="#fff" stop-opacity="0.0963"/><stop offset="0.6250" stop-color="#fff" stop-opacity="0.0822"/><stop offset="0.6667" stop-color="#fff" stop-opacity="0.0648"/><stop offset="0.7083" stop-color="#fff" stop-opacity="0.0471"/><stop offset="0.7500" stop-color="#fff" stop-opacity="0.0313"/><stop offset="0.7917" stop-color="#fff" stop-opacity="0.0190"/><stop offset="0.8333" stop-color="#fff" stop-opacity="0.0105"/><stop offset="0.8750" stop-color="#fff" stop-opacity="0.0053"/><stop offset="0.9167" stop-color="#fff" stop-opacity="0.0024"/><stop offset="0.9583" stop-color="#fff" stop-opacity="0.0010"/><stop offset="1.0000" stop-color="#fff" stop-opacity="0.0004"/></linearGradient><linearGradient id="b11" x1="0" y1="0" x2="0" y2="1"><stop offset="0.0000" stop-color="#fff" stop-opacity="0.0002"/><stop offset="0.0417" stop-color="#fff" stop-opacity="0.0006"/><stop offset="0.0833" stop-color="#fff" stop-opacity="0.0014"/><stop offset="0.1250" stop-color="#fff" stop-opacity="0.0030"/><stop offset="0.1667" stop-color="#fff" stop-opacity="0.0059"/><stop offset="0.2083" stop-color="#fff" stop-opacity="0.0107"/><stop offset="0.2500" stop-color="#fff" stop-opacity="0.0175"/><stop offset="0.2917" stop-color="#fff" stop-opacity="0.0264"/><stop offset="0.3333" stop-color="#fff" stop-opacity="0.0363"/><stop offset="0.3750" stop-color="#fff" stop-opacity="0.0460"/><stop offset="0.4167" stop-color="#fff" stop-opacity="0.0539"/><stop offset="0.4583" stop-color="#fff" stop-opacity="0.0588"/><stop offset="0.5000" stop-color="#fff" stop-opacity="0.0602"/><stop offset="0.5417" stop-color="#fff" stop-opacity="0.0588"/><stop offset="0.5833" stop-color="#fff" stop-opacity="0.0539"/><stop offset="0.6250" stop-color="#fff" stop-opacity="0.0460"/><stop offset="0.6667" stop-color="#fff" stop-opacity="0.0363"/><stop offset="0.7083" stop-color="#fff" stop-opacity="0.0264"/><stop offset="0.7500" stop-color="#fff" stop-opacity="0.0175"/><stop offset="0.7917" stop-color="#fff" stop-opacity="0.0107"/><stop offset="0.8333" stop-color="#fff" stop-opacity="0.0059"/><stop offset="0.8750" stop-color="#fff" stop-opacity="0.0030"/><stop offset="0.9167" stop-color="#fff" stop-opacity="0.0014"/><stop offset="0.9583" stop-color="#fff" stop-opacity="0.0006"/><stop offset="1.0000" stop-color="#fff" stop-opacity="0.0002"/></linearGradient><radialGradient id="b12"><stop offset="0.0000" stop-color="#fff" stop-opacity="0.0645"/><stop offset="0.0625" stop-color="#fff" stop-opacity="0.0634"/><stop offset="0.1250" stop-color="#fff" stop-opacity="0.0601"/><stop offset="0.1875" stop-color="#fff" stop-opacity="0.0551"/><stop offset="0.2500" stop-color="#fff" stop-opacity="0.0487"/><stop offset="0.3125" stop-color="#fff" stop-opacity="0.0416"/><stop offset="0.3750" stop-color="#fff" stop-opacity="0.0343"/><stop offset="0.4375" stop-color="#fff" stop-opacity="0.0273"/><stop offset="0.5000" stop-color="#fff" stop-opacity="0.0209"/><stop offset="0.5625" stop-color="#fff" stop-opacity="0.0155"/><stop offset="0.6250" stop-color="#fff" stop-opacity="0.0111"/><stop offset="0.6875" stop-color="#fff" stop-opacity="0.0077"/><stop offset="0.7500" stop-color="#fff" stop-opacity="0.0051"/><stop offset="0.8125" stop-color="#fff" stop-opacity="0.0033"/><stop offset="0.8750" stop-color="#fff" stop-opacity="0.0021"/><stop offset="0.9375" stop-color="#fff" stop-opacity="0.0012"/><stop offset="1.0000" stop-color="#fff" stop-opacity="0.0000"/></radialGradient><pattern id="nhb" patternUnits="userSpaceOnUse" x="0" y="0" width="37" height="33" patternTransform="translate(463 24.5) scale(2.57143 2.08571)"><rect width="37" height="33" fill="#fff"/><path fill="rgb(0,0,0)" d="M8 0h1v1h-1zM21 0h1v1h-1zM19 1h1v1h-1zM4 2h1v1h-1zM32 2h1v1h-1zM19 3h1v1h-1zM23 3h1v1h-1zM4 4h1v1h-1zM9 4h1v1h-1zM31 4h1v1h-1zM32 4h1v1h-1zM5 6h1v1h-1zM31 6h1v1h-1zM34 6h1v1h-1zM23 8h1v1h-1zM26 8h1v1h-1zM36 8h1v1h-1zM5 10h1v1h-1zM7 10h1v1h-1zM15 11h1v1h-1zM21 11h1v1h-1zM25 11h1v1h-1zM26 11h1v1h-1zM4 12h1v1h-1zM21 12h1v1h-1zM31 12h1v1h-1zM22 13h1v1h-1zM0 14h1v1h-1zM21 14h1v1h-1zM22 14h1v1h-1zM30 14h1v1h-1zM8 15h1v1h-1zM32 15h1v1h-1zM10 17h1v1h-1zM11 17h1v1h-1zM16 17h1v1h-1zM33 17h1v1h-1zM13 18h1v1h-1zM25 18h1v1h-1zM33 18h1v1h-1zM36 19h1v1h-1zM5 20h1v1h-1zM23 20h1v1h-1zM27 20h1v1h-1zM28 20h1v1h-1zM5 21h1v1h-1zM10 21h1v1h-1zM35 21h1v1h-1zM5 23h1v1h-1zM29 23h1v1h-1zM22 24h1v1h-1zM30 24h1v1h-1zM35 25h1v1h-1zM1 26h1v1h-1zM14 26h1v1h-1zM29 26h1v1h-1zM29 27h1v1h-1zM21 28h1v1h-1zM29 28h1v1h-1zM30 28h1v1h-1zM2 29h1v1h-1zM3 29h1v1h-1zM23 29h1v1h-1zM33 29h1v1h-1zM2 30h1v1h-1zM14 30h1v1h-1zM18 30h1v1h-1zM27 30h1v1h-1zM6 31h1v1h-1zM34 31h1v1h-1zM2 32h1v1h-1zM3 32h1v1h-1zM21 32h1v1h-1zM34 32h1v1h-1z"/><path fill="rgb(16,16,16)" d="M3 0h1v1h-1zM6 0h1v1h-1zM10 0h1v1h-1zM11 0h1v1h-1zM14 0h1v1h-1zM25 0h1v1h-1zM33 0h1v1h-1zM34 0h1v1h-1zM14 1h1v1h-1zM33 1h1v1h-1zM7 2h1v1h-1zM8 2h1v1h-1zM14 2h1v1h-1zM4 3h1v1h-1zM11 3h1v1h-1zM13 3h1v1h-1zM14 3h1v1h-1zM18 3h1v1h-1zM21 3h1v1h-1zM30 3h1v1h-1zM35 3h1v1h-1zM36 3h1v1h-1zM15 5h1v1h-1zM31 5h1v1h-1zM7 7h1v1h-1zM33 7h1v1h-1zM35 7h1v1h-1zM0 8h1v1h-1zM30 8h1v1h-1zM34 8h1v1h-1zM11 9h1v1h-1zM12 9h1v1h-1zM15 9h1v1h-1zM19 9h1v1h-1zM21 9h1v1h-1zM31 9h1v1h-1zM33 9h1v1h-1zM13 10h1v1h-1zM28 10h1v1h-1zM30 10h1v1h-1zM34 10h1v1h-1zM23 11h1v1h-1zM24 12h1v1h-1zM0 13h1v1h-1zM3 13h1v1h-1zM16 13h1v1h-1zM23 13h1v1h-1zM32 13h1v1h-1zM33 14h1v1h-1zM9 15h1v1h-1zM26 15h1v1h-1zM34 15h1v1h-1zM19 16h1v1h-1zM21 16h1v1h-1zM32 16h1v1h-1zM35 16h1v1h-1zM23 17h1v1h-1zM6 18h1v1h-1zM7 18h1v1h-1zM24 19h1v1h-1zM25 19h1v1h-1zM9 20h1v1h-1zM16 20h1v1h-1zM29 20h1v1h-1zM30 21h1v1h-1zM34 21h1v1h-1zM5 22h1v1h-1zM6 22h1v1h-1zM17 22h1v1h-1zM0 23h1v1h-1zM7 23h1v1h-1zM18 23h1v1h-1zM0 24h1v1h-1zM1 24h1v1h-1zM5 24h1v1h-1zM34 24h1v1h-1zM5 25h1v1h-1zM10 25h1v1h-1zM14 25h1v1h-1zM31 25h1v1h-1zM3 26h1v1h-1zM23 26h1v1h-1zM26 26h1v1h-1zM31 26h1v1h-1zM35 26h1v1h-1zM15 27h1v1h-1zM0 28h1v1h-1zM8 28h1v1h-1zM5 29h1v1h-1zM17 29h1v1h-1zM0 30h1v1h-1zM25 30h1v1h-1zM31 31h1v1h-1zM35 31h1v1h-1zM8 32h1v1h-1zM14 32h1v1h-1zM18 32h1v1h-1zM20 32h1v1h-1zM28 32h1v1h-1zM29 32h1v1h-1z"/><path fill="rgb(32,32,32)" d="M1 0h1v1h-1zM24 0h1v1h-1zM28 0h1v1h-1zM17 1h1v1h-1zM6 2h1v1h-1zM10 2h1v1h-1zM25 2h1v1h-1zM26 2h1v1h-1zM16 3h1v1h-1zM20 3h1v1h-1zM26 3h1v1h-1zM3 4h1v1h-1zM7 4h1v1h-1zM16 4h1v1h-1zM7 5h1v1h-1zM21 5h1v1h-1zM30 5h1v1h-1zM32 5h1v1h-1zM35 5h1v1h-1zM4 6h1v1h-1zM20 6h1v1h-1zM33 6h1v1h-1zM36 6h1v1h-1zM32 7h1v1h-1zM4 8h1v1h-1zM7 8h1v1h-1zM16 8h1v1h-1zM20 8h1v1h-1zM2 9h1v1h-1zM7 9h1v1h-1zM28 9h1v1h-1zM32 9h1v1h-1zM3 10h1v1h-1zM10 10h1v1h-1zM29 10h1v1h-1zM33 10h1v1h-1zM5 11h1v1h-1zM1 12h1v1h-1zM10 12h1v1h-1zM22 12h1v1h-1zM17 13h1v1h-1zM10 14h1v1h-1zM13 14h1v1h-1zM26 14h1v1h-1zM16 15h1v1h-1zM8 16h1v1h-1zM9 16h1v1h-1zM17 16h1v1h-1zM18 16h1v1h-1zM24 17h1v1h-1zM2 18h1v1h-1zM0 19h1v1h-1zM14 19h1v1h-1zM19 19h1v1h-1zM23 19h1v1h-1zM33 19h1v1h-1zM4 20h1v1h-1zM20 20h1v1h-1zM20 21h1v1h-1zM31 21h1v1h-1zM26 22h1v1h-1zM8 23h1v1h-1zM23 23h1v1h-1zM32 23h1v1h-1zM6 24h1v1h-1zM19 24h1v1h-1zM29 24h1v1h-1zM1 25h1v1h-1zM9 25h1v1h-1zM20 25h1v1h-1zM26 25h1v1h-1zM21 26h1v1h-1zM24 26h1v1h-1zM2 27h1v1h-1zM7 27h1v1h-1zM12 27h1v1h-1zM18 27h1v1h-1zM22 27h1v1h-1zM30 27h1v1h-1zM31 27h1v1h-1zM35 27h1v1h-1zM19 28h1v1h-1zM31 28h1v1h-1zM36 28h1v1h-1zM13 29h1v1h-1zM16 29h1v1h-1zM5 30h1v1h-1zM11 30h1v1h-1zM33 31h1v1h-1zM1 32h1v1h-1z"/><path fill="rgb(48,48,48)" d="M15 0h1v1h-1zM35 0h1v1h-1zM7 1h1v1h-1zM11 2h1v1h-1zM27 2h1v1h-1zM28 2h1v1h-1zM31 2h1v1h-1zM15 3h1v1h-1zM27 3h1v1h-1zM1 4h1v1h-1zM14 4h1v1h-1zM21 4h1v1h-1zM28 4h1v1h-1zM34 4h1v1h-1zM5 5h1v1h-1zM6 5h1v1h-1zM8 5h1v1h-1zM13 6h1v1h-1zM14 6h1v1h-1zM16 6h1v1h-1zM18 6h1v1h-1zM9 7h1v1h-1zM28 7h1v1h-1zM36 7h1v1h-1zM10 8h1v1h-1zM35 8h1v1h-1zM6 9h1v1h-1zM30 9h1v1h-1zM34 9h1v1h-1zM6 10h1v1h-1zM32 10h1v1h-1zM2 11h1v1h-1zM7 11h1v1h-1zM11 11h1v1h-1zM19 11h1v1h-1zM22 11h1v1h-1zM28 11h1v1h-1zM20 12h1v1h-1zM2 13h1v1h-1zM4 13h1v1h-1zM6 13h1v1h-1zM18 13h1v1h-1zM34 13h1v1h-1zM6 14h1v1h-1zM8 14h1v1h-1zM18 14h1v1h-1zM13 15h1v1h-1zM14 15h1v1h-1zM3 16h1v1h-1zM10 16h1v1h-1zM13 16h1v1h-1zM22 16h1v1h-1zM23 16h1v1h-1zM2 17h1v1h-1zM4 17h1v1h-1zM22 17h1v1h-1zM35 17h1v1h-1zM3 18h1v1h-1zM11 18h1v1h-1zM20 18h1v1h-1zM21 18h1v1h-1zM29 18h1v1h-1zM32 18h1v1h-1zM4 19h1v1h-1zM8 19h1v1h-1zM9 19h1v1h-1zM15 19h1v1h-1zM21 19h1v1h-1zM11 20h1v1h-1zM31 20h1v1h-1zM1 21h1v1h-1zM11 21h1v1h-1zM16 21h1v1h-1zM33 21h1v1h-1zM4 22h1v1h-1zM10 22h1v1h-1zM23 22h1v1h-1zM24 22h1v1h-1zM25 22h1v1h-1zM33 22h1v1h-1zM15 23h1v1h-1zM21 23h1v1h-1zM24 23h1v1h-1zM25 23h1v1h-1zM28 23h1v1h-1zM34 23h1v1h-1zM21 24h1v1h-1zM22 25h1v1h-1zM27 25h1v1h-1zM32 25h1v1h-1zM17 26h1v1h-1zM25 27h1v1h-1zM26 27h1v1h-1zM13 28h1v1h-1zM23 28h1v1h-1zM0 29h1v1h-1zM7 29h1v1h-1zM10 29h1v1h-1zM15 29h1v1h-1zM22 29h1v1h-1zM31 29h1v1h-1zM36 29h1v1h-1zM6 30h1v1h-1zM24 30h1v1h-1zM26 30h1v1h-1zM33 30h1v1h-1zM1 31h1v1h-1zM4 31h1v1h-1zM7 31h1v1h-1zM8 31h1v1h-1zM15 31h1v1h-1zM29 31h1v1h-1zM19 32h1v1h-1zM31 32h1v1h-1zM35 32h1v1h-1z"/><path fill="rgb(64,64,64)" d="M0 0h1v1h-1zM23 0h1v1h-1zM26 0h1v1h-1zM1 1h1v1h-1zM4 1h1v1h-1zM12 1h1v1h-1zM24 1h1v1h-1zM1 2h1v1h-1zM20 2h1v1h-1zM20 4h1v1h-1zM33 4h1v1h-1zM15 6h1v1h-1zM3 7h1v1h-1zM10 7h1v1h-1zM21 8h1v1h-1zM27 8h1v1h-1zM1 9h1v1h-1zM27 9h1v1h-1zM35 9h1v1h-1zM36 9h1v1h-1zM1 10h1v1h-1zM1 11h1v1h-1zM3 11h1v1h-1zM13 11h1v1h-1zM27 11h1v1h-1zM36 11h1v1h-1zM20 13h1v1h-1zM24 13h1v1h-1zM28 13h1v1h-1zM5 14h1v1h-1zM25 14h1v1h-1zM28 14h1v1h-1zM0 15h1v1h-1zM7 15h1v1h-1zM11 15h1v1h-1zM31 15h1v1h-1zM0 16h1v1h-1zM5 16h1v1h-1zM33 16h1v1h-1zM3 17h1v1h-1zM1 18h1v1h-1zM14 18h1v1h-1zM24 18h1v1h-1zM6 19h1v1h-1zM11 19h1v1h-1zM32 19h1v1h-1zM3 20h1v1h-1zM6 20h1v1h-1zM35 20h1v1h-1zM3 21h1v1h-1zM4 21h1v1h-1zM26 21h1v1h-1zM27 21h1v1h-1zM0 22h1v1h-1zM19 22h1v1h-1zM29 22h1v1h-1zM6 23h1v1h-1zM30 23h1v1h-1zM33 23h1v1h-1zM9 24h1v1h-1zM10 24h1v1h-1zM12 24h1v1h-1zM2 25h1v1h-1zM7 26h1v1h-1zM20 27h1v1h-1zM28 27h1v1h-1zM28 28h1v1h-1zM12 30h1v1h-1zM13 30h1v1h-1zM12 31h1v1h-1zM14 31h1v1h-1zM28 31h1v1h-1zM27 32h1v1h-1zM32 32h1v1h-1zM36 32h1v1h-1z"/><path fill="rgb(80,80,80)" d="M5 0h1v1h-1zM31 0h1v1h-1zM2 2h1v1h-1zM12 2h1v1h-1zM22 2h1v1h-1zM34 2h1v1h-1zM9 3h1v1h-1zM17 3h1v1h-1zM22 3h1v1h-1zM28 3h1v1h-1zM29 3h1v1h-1zM0 4h1v1h-1zM15 4h1v1h-1zM30 4h1v1h-1zM4 5h1v1h-1zM23 5h1v1h-1zM2 6h1v1h-1zM22 6h1v1h-1zM19 8h1v1h-1zM24 9h1v1h-1zM4 10h1v1h-1zM18 10h1v1h-1zM22 10h1v1h-1zM27 10h1v1h-1zM14 11h1v1h-1zM16 11h1v1h-1zM35 11h1v1h-1zM23 12h1v1h-1zM10 13h1v1h-1zM27 14h1v1h-1zM1 15h1v1h-1zM2 15h1v1h-1zM5 15h1v1h-1zM17 15h1v1h-1zM36 15h1v1h-1zM7 16h1v1h-1zM20 16h1v1h-1zM30 16h1v1h-1zM31 16h1v1h-1zM17 17h1v1h-1zM10 18h1v1h-1zM34 18h1v1h-1zM20 19h1v1h-1zM26 19h1v1h-1zM1 20h1v1h-1zM2 20h1v1h-1zM7 20h1v1h-1zM12 20h1v1h-1zM18 20h1v1h-1zM21 20h1v1h-1zM34 20h1v1h-1zM15 21h1v1h-1zM28 21h1v1h-1zM21 22h1v1h-1zM12 23h1v1h-1zM22 23h1v1h-1zM14 24h1v1h-1zM18 24h1v1h-1zM36 24h1v1h-1zM16 25h1v1h-1zM30 25h1v1h-1zM0 27h1v1h-1zM16 27h1v1h-1zM3 28h1v1h-1zM11 28h1v1h-1zM16 28h1v1h-1zM4 29h1v1h-1zM6 29h1v1h-1zM26 29h1v1h-1zM28 30h1v1h-1zM0 32h1v1h-1zM10 32h1v1h-1z"/><path fill="rgb(96,96,96)" d="M9 0h1v1h-1zM12 0h1v1h-1zM19 0h1v1h-1zM0 1h1v1h-1zM3 1h1v1h-1zM15 1h1v1h-1zM28 1h1v1h-1zM15 2h1v1h-1zM21 2h1v1h-1zM33 2h1v1h-1zM10 3h1v1h-1zM0 5h1v1h-1zM26 5h1v1h-1zM27 5h1v1h-1zM10 6h1v1h-1zM19 6h1v1h-1zM26 6h1v1h-1zM32 6h1v1h-1zM16 7h1v1h-1zM21 7h1v1h-1zM34 7h1v1h-1zM12 8h1v1h-1zM17 8h1v1h-1zM25 8h1v1h-1zM3 9h1v1h-1zM14 9h1v1h-1zM23 9h1v1h-1zM15 10h1v1h-1zM26 10h1v1h-1zM6 11h1v1h-1zM24 11h1v1h-1zM4 14h1v1h-1zM24 14h1v1h-1zM6 15h1v1h-1zM28 15h1v1h-1zM16 16h1v1h-1zM27 16h1v1h-1zM28 16h1v1h-1zM5 17h1v1h-1zM6 17h1v1h-1zM28 18h1v1h-1zM35 18h1v1h-1zM16 19h1v1h-1zM15 20h1v1h-1zM24 20h1v1h-1zM17 21h1v1h-1zM9 22h1v1h-1zM11 22h1v1h-1zM30 22h1v1h-1zM14 23h1v1h-1zM2 24h1v1h-1zM8 24h1v1h-1zM15 24h1v1h-1zM24 24h1v1h-1zM26 24h1v1h-1zM23 25h1v1h-1zM28 25h1v1h-1zM8 26h1v1h-1zM10 26h1v1h-1zM12 26h1v1h-1zM13 26h1v1h-1zM25 26h1v1h-1zM27 26h1v1h-1zM18 28h1v1h-1zM33 28h1v1h-1zM21 29h1v1h-1zM28 29h1v1h-1zM35 29h1v1h-1zM23 30h1v1h-1zM35 30h1v1h-1zM25 31h1v1h-1zM33 32h1v1h-1z"/><path fill="rgb(112,112,112)" d="M7 0h1v1h-1zM18 1h1v1h-1zM31 1h1v1h-1zM5 2h1v1h-1zM29 2h1v1h-1zM1 3h1v1h-1zM33 3h1v1h-1zM34 3h1v1h-1zM12 5h1v1h-1zM20 5h1v1h-1zM23 6h1v1h-1zM28 6h1v1h-1zM0 7h1v1h-1zM12 7h1v1h-1zM18 7h1v1h-1zM19 7h1v1h-1zM23 7h1v1h-1zM13 8h1v1h-1zM18 8h1v1h-1zM29 8h1v1h-1zM2 10h1v1h-1zM11 10h1v1h-1zM16 10h1v1h-1zM19 10h1v1h-1zM4 11h1v1h-1zM17 11h1v1h-1zM18 11h1v1h-1zM20 11h1v1h-1zM12 12h1v1h-1zM30 12h1v1h-1zM34 12h1v1h-1zM9 13h1v1h-1zM11 13h1v1h-1zM29 13h1v1h-1zM30 13h1v1h-1zM31 13h1v1h-1zM1 14h1v1h-1zM15 14h1v1h-1zM20 14h1v1h-1zM23 14h1v1h-1zM15 15h1v1h-1zM35 15h1v1h-1zM12 16h1v1h-1zM36 16h1v1h-1zM14 17h1v1h-1zM31 17h1v1h-1zM15 18h1v1h-1zM19 18h1v1h-1zM26 18h1v1h-1zM3 19h1v1h-1zM13 19h1v1h-1zM17 20h1v1h-1zM12 21h1v1h-1zM18 21h1v1h-1zM7 22h1v1h-1zM32 22h1v1h-1zM1 23h1v1h-1zM28 24h1v1h-1zM0 25h1v1h-1zM6 25h1v1h-1zM13 25h1v1h-1zM16 26h1v1h-1zM20 26h1v1h-1zM22 26h1v1h-1zM28 26h1v1h-1zM34 26h1v1h-1zM36 26h1v1h-1zM9 27h1v1h-1zM23 27h1v1h-1zM27 27h1v1h-1zM34 28h1v1h-1zM12 29h1v1h-1zM8 30h1v1h-1zM21 30h1v1h-1zM21 31h1v1h-1z"/><path fill="rgb(128,128,128)" d="M4 0h1v1h-1zM32 0h1v1h-1zM8 1h1v1h-1zM9 1h1v1h-1zM22 1h1v1h-1zM16 2h1v1h-1zM35 2h1v1h-1zM6 4h1v1h-1zM8 4h1v1h-1zM10 4h1v1h-1zM18 4h1v1h-1zM29 4h1v1h-1zM3 6h1v1h-1zM8 6h1v1h-1zM29 6h1v1h-1zM30 6h1v1h-1zM2 7h1v1h-1zM4 7h1v1h-1zM5 7h1v1h-1zM8 7h1v1h-1zM13 7h1v1h-1zM22 7h1v1h-1zM29 7h1v1h-1zM24 8h1v1h-1zM9 9h1v1h-1zM25 9h1v1h-1zM29 9h1v1h-1zM9 10h1v1h-1zM10 11h1v1h-1zM30 11h1v1h-1zM11 12h1v1h-1zM26 12h1v1h-1zM35 12h1v1h-1zM21 13h1v1h-1zM11 14h1v1h-1zM24 15h1v1h-1zM6 16h1v1h-1zM24 16h1v1h-1zM29 16h1v1h-1zM25 17h1v1h-1zM32 17h1v1h-1zM8 18h1v1h-1zM36 21h1v1h-1zM20 22h1v1h-1zM36 23h1v1h-1zM3 24h1v1h-1zM13 24h1v1h-1zM31 24h1v1h-1zM3 25h1v1h-1zM29 25h1v1h-1zM36 25h1v1h-1zM5 26h1v1h-1zM1 28h1v1h-1zM5 28h1v1h-1zM25 29h1v1h-1zM34 29h1v1h-1zM3 30h1v1h-1zM34 30h1v1h-1zM0 31h1v1h-1zM27 31h1v1h-1z"/><path fill="rgb(143,143,143)" d="M16 0h1v1h-1zM18 0h1v1h-1zM29 0h1v1h-1zM2 1h1v1h-1zM26 1h1v1h-1zM27 1h1v1h-1zM30 2h1v1h-1zM2 3h1v1h-1zM12 3h1v1h-1zM25 3h1v1h-1zM9 5h1v1h-1zM17 6h1v1h-1zM24 6h1v1h-1zM17 7h1v1h-1zM28 8h1v1h-1zM17 9h1v1h-1zM29 11h1v1h-1zM7 12h1v1h-1zM16 12h1v1h-1zM27 12h1v1h-1zM28 12h1v1h-1zM14 13h1v1h-1zM9 14h1v1h-1zM4 15h1v1h-1zM21 15h1v1h-1zM0 17h1v1h-1zM15 17h1v1h-1zM9 18h1v1h-1zM12 18h1v1h-1zM0 21h1v1h-1zM8 21h1v1h-1zM25 21h1v1h-1zM12 22h1v1h-1zM28 22h1v1h-1zM10 23h1v1h-1zM19 23h1v1h-1zM20 23h1v1h-1zM26 23h1v1h-1zM35 24h1v1h-1zM18 25h1v1h-1zM4 26h1v1h-1zM6 26h1v1h-1zM9 26h1v1h-1zM15 26h1v1h-1zM6 28h1v1h-1zM10 28h1v1h-1zM15 28h1v1h-1zM26 28h1v1h-1zM32 28h1v1h-1zM8 29h1v1h-1zM9 29h1v1h-1zM11 29h1v1h-1zM7 30h1v1h-1zM17 31h1v1h-1zM30 31h1v1h-1zM5 32h1v1h-1zM9 32h1v1h-1zM24 32h1v1h-1zM26 32h1v1h-1z"/><path fill="rgb(159,159,159)" d="M2 0h1v1h-1zM30 0h1v1h-1zM36 0h1v1h-1zM20 1h1v1h-1zM32 1h1v1h-1zM35 1h1v1h-1zM3 2h1v1h-1zM0 3h1v1h-1zM3 3h1v1h-1zM35 4h1v1h-1zM13 5h1v1h-1zM16 5h1v1h-1zM1 6h1v1h-1zM7 6h1v1h-1zM20 7h1v1h-1zM1 8h1v1h-1zM6 8h1v1h-1zM13 9h1v1h-1zM20 10h1v1h-1zM25 10h1v1h-1zM0 11h1v1h-1zM32 11h1v1h-1zM3 12h1v1h-1zM18 12h1v1h-1zM29 12h1v1h-1zM36 12h1v1h-1zM12 13h1v1h-1zM15 13h1v1h-1zM25 13h1v1h-1zM26 13h1v1h-1zM27 13h1v1h-1zM30 15h1v1h-1zM4 16h1v1h-1zM26 17h1v1h-1zM29 17h1v1h-1zM0 18h1v1h-1zM4 18h1v1h-1zM17 18h1v1h-1zM27 18h1v1h-1zM30 18h1v1h-1zM36 18h1v1h-1zM17 19h1v1h-1zM0 20h1v1h-1zM13 22h1v1h-1zM16 22h1v1h-1zM35 22h1v1h-1zM27 23h1v1h-1zM31 23h1v1h-1zM4 24h1v1h-1zM32 24h1v1h-1zM11 26h1v1h-1zM30 26h1v1h-1zM33 27h1v1h-1zM2 28h1v1h-1zM24 28h1v1h-1zM27 28h1v1h-1zM1 29h1v1h-1zM18 29h1v1h-1zM24 29h1v1h-1zM27 29h1v1h-1zM9 30h1v1h-1zM2 31h1v1h-1zM18 31h1v1h-1zM19 31h1v1h-1zM4 32h1v1h-1z"/><path fill="rgb(175,175,175)" d="M6 1h1v1h-1zM11 1h1v1h-1zM25 1h1v1h-1zM34 1h1v1h-1zM13 4h1v1h-1zM27 4h1v1h-1zM19 5h1v1h-1zM29 5h1v1h-1zM1 7h1v1h-1zM25 7h1v1h-1zM5 8h1v1h-1zM22 8h1v1h-1zM10 9h1v1h-1zM8 10h1v1h-1zM24 10h1v1h-1zM31 10h1v1h-1zM33 11h1v1h-1zM2 12h1v1h-1zM8 12h1v1h-1zM19 12h1v1h-1zM33 12h1v1h-1zM1 13h1v1h-1zM5 13h1v1h-1zM7 13h1v1h-1zM19 13h1v1h-1zM17 14h1v1h-1zM35 14h1v1h-1zM25 15h1v1h-1zM27 15h1v1h-1zM1 16h1v1h-1zM26 16h1v1h-1zM12 17h1v1h-1zM28 17h1v1h-1zM5 18h1v1h-1zM23 18h1v1h-1zM2 19h1v1h-1zM29 19h1v1h-1zM35 19h1v1h-1zM32 20h1v1h-1zM2 21h1v1h-1zM22 21h1v1h-1zM8 22h1v1h-1zM14 22h1v1h-1zM22 22h1v1h-1zM7 24h1v1h-1zM20 24h1v1h-1zM33 25h1v1h-1zM32 26h1v1h-1zM5 27h1v1h-1zM20 28h1v1h-1zM30 29h1v1h-1zM17 30h1v1h-1zM20 30h1v1h-1zM22 30h1v1h-1zM29 30h1v1h-1zM30 30h1v1h-1zM32 30h1v1h-1zM9 31h1v1h-1zM11 31h1v1h-1zM23 31h1v1h-1zM26 31h1v1h-1zM6 32h1v1h-1zM7 32h1v1h-1z"/><path fill="rgb(191,191,191)" d="M5 1h1v1h-1zM16 1h1v1h-1zM21 1h1v1h-1zM9 2h1v1h-1zM6 3h1v1h-1zM8 3h1v1h-1zM17 4h1v1h-1zM19 4h1v1h-1zM25 4h1v1h-1zM14 5h1v1h-1zM18 5h1v1h-1zM22 5h1v1h-1zM24 5h1v1h-1zM34 5h1v1h-1zM35 6h1v1h-1zM6 7h1v1h-1zM11 7h1v1h-1zM14 7h1v1h-1zM2 8h1v1h-1zM32 8h1v1h-1zM0 9h1v1h-1zM18 9h1v1h-1zM0 10h1v1h-1zM31 11h1v1h-1zM14 12h1v1h-1zM32 12h1v1h-1zM13 13h1v1h-1zM31 14h1v1h-1zM29 15h1v1h-1zM30 17h1v1h-1zM34 17h1v1h-1zM1 19h1v1h-1zM10 19h1v1h-1zM26 20h1v1h-1zM6 21h1v1h-1zM21 21h1v1h-1zM24 21h1v1h-1zM29 21h1v1h-1zM32 21h1v1h-1zM16 23h1v1h-1zM35 23h1v1h-1zM7 25h1v1h-1zM21 25h1v1h-1zM0 26h1v1h-1zM18 26h1v1h-1zM19 26h1v1h-1zM33 26h1v1h-1zM13 27h1v1h-1zM17 27h1v1h-1zM36 27h1v1h-1zM12 28h1v1h-1zM17 28h1v1h-1zM20 29h1v1h-1zM1 30h1v1h-1zM16 30h1v1h-1zM36 30h1v1h-1zM30 32h1v1h-1z"/><path fill="rgb(207,207,207)" d="M13 0h1v1h-1zM22 0h1v1h-1zM27 0h1v1h-1zM29 1h1v1h-1zM0 2h1v1h-1zM18 2h1v1h-1zM31 3h1v1h-1zM2 4h1v1h-1zM22 4h1v1h-1zM24 4h1v1h-1zM26 4h1v1h-1zM11 5h1v1h-1zM36 5h1v1h-1zM12 6h1v1h-1zM31 7h1v1h-1zM15 8h1v1h-1zM5 9h1v1h-1zM20 9h1v1h-1zM14 10h1v1h-1zM17 10h1v1h-1zM23 10h1v1h-1zM35 10h1v1h-1zM5 12h1v1h-1zM9 12h1v1h-1zM13 12h1v1h-1zM15 12h1v1h-1zM25 12h1v1h-1zM2 14h1v1h-1zM14 14h1v1h-1zM29 14h1v1h-1zM32 14h1v1h-1zM10 15h1v1h-1zM20 15h1v1h-1zM8 17h1v1h-1zM19 17h1v1h-1zM20 17h1v1h-1zM7 19h1v1h-1zM13 20h1v1h-1zM14 20h1v1h-1zM25 20h1v1h-1zM23 21h1v1h-1zM15 22h1v1h-1zM18 22h1v1h-1zM34 22h1v1h-1zM2 23h1v1h-1zM3 23h1v1h-1zM25 24h1v1h-1zM19 25h1v1h-1zM24 25h1v1h-1zM25 25h1v1h-1zM2 26h1v1h-1zM3 27h1v1h-1zM6 27h1v1h-1zM21 27h1v1h-1zM22 28h1v1h-1zM10 30h1v1h-1zM19 30h1v1h-1zM31 30h1v1h-1zM22 31h1v1h-1zM24 31h1v1h-1zM11 32h1v1h-1zM12 32h1v1h-1zM22 32h1v1h-1zM23 32h1v1h-1zM25 32h1v1h-1z"/><path fill="rgb(223,223,223)" d="M10 1h1v1h-1zM23 1h1v1h-1zM13 2h1v1h-1zM17 2h1v1h-1zM19 2h1v1h-1zM23 2h1v1h-1zM5 3h1v1h-1zM7 3h1v1h-1zM24 3h1v1h-1zM12 4h1v1h-1zM10 5h1v1h-1zM17 5h1v1h-1zM33 5h1v1h-1zM11 6h1v1h-1zM21 6h1v1h-1zM25 6h1v1h-1zM27 6h1v1h-1zM15 7h1v1h-1zM26 7h1v1h-1zM3 8h1v1h-1zM8 8h1v1h-1zM4 9h1v1h-1zM22 9h1v1h-1zM36 10h1v1h-1zM34 11h1v1h-1zM6 12h1v1h-1zM17 12h1v1h-1zM33 13h1v1h-1zM16 14h1v1h-1zM19 14h1v1h-1zM36 14h1v1h-1zM19 15h1v1h-1zM22 15h1v1h-1zM11 16h1v1h-1zM14 16h1v1h-1zM25 16h1v1h-1zM1 17h1v1h-1zM9 17h1v1h-1zM13 17h1v1h-1zM18 18h1v1h-1zM27 19h1v1h-1zM28 19h1v1h-1zM22 20h1v1h-1zM33 20h1v1h-1zM7 21h1v1h-1zM2 22h1v1h-1zM27 22h1v1h-1zM4 23h1v1h-1zM13 23h1v1h-1zM16 24h1v1h-1zM23 24h1v1h-1zM27 24h1v1h-1zM33 24h1v1h-1zM17 25h1v1h-1zM34 25h1v1h-1zM11 27h1v1h-1zM19 27h1v1h-1zM34 27h1v1h-1zM4 28h1v1h-1zM7 28h1v1h-1zM35 28h1v1h-1zM19 29h1v1h-1zM32 29h1v1h-1zM15 30h1v1h-1zM5 31h1v1h-1zM13 31h1v1h-1zM16 31h1v1h-1zM32 31h1v1h-1zM13 32h1v1h-1zM15 32h1v1h-1zM16 32h1v1h-1z"/><path fill="rgb(239,239,239)" d="M17 0h1v1h-1zM30 1h1v1h-1zM24 2h1v1h-1zM36 2h1v1h-1zM5 4h1v1h-1zM36 4h1v1h-1zM1 5h1v1h-1zM3 5h1v1h-1zM25 5h1v1h-1zM28 5h1v1h-1zM6 6h1v1h-1zM9 6h1v1h-1zM24 7h1v1h-1zM27 7h1v1h-1zM30 7h1v1h-1zM9 8h1v1h-1zM11 8h1v1h-1zM33 8h1v1h-1zM8 9h1v1h-1zM16 9h1v1h-1zM26 9h1v1h-1zM12 10h1v1h-1zM8 11h1v1h-1zM9 11h1v1h-1zM12 11h1v1h-1zM36 13h1v1h-1zM3 14h1v1h-1zM7 14h1v1h-1zM12 14h1v1h-1zM34 14h1v1h-1zM12 15h1v1h-1zM18 15h1v1h-1zM23 15h1v1h-1zM33 15h1v1h-1zM34 16h1v1h-1zM7 17h1v1h-1zM18 17h1v1h-1zM21 17h1v1h-1zM27 17h1v1h-1zM36 17h1v1h-1zM16 18h1v1h-1zM22 18h1v1h-1zM31 18h1v1h-1zM5 19h1v1h-1zM12 19h1v1h-1zM18 19h1v1h-1zM31 19h1v1h-1zM34 19h1v1h-1zM8 20h1v1h-1zM10 20h1v1h-1zM19 20h1v1h-1zM30 20h1v1h-1zM36 20h1v1h-1zM9 21h1v1h-1zM13 21h1v1h-1zM14 21h1v1h-1zM19 21h1v1h-1zM11 23h1v1h-1zM17 23h1v1h-1zM11 24h1v1h-1zM4 25h1v1h-1zM8 25h1v1h-1zM11 25h1v1h-1zM15 25h1v1h-1zM1 27h1v1h-1zM10 27h1v1h-1zM14 27h1v1h-1zM24 27h1v1h-1zM32 27h1v1h-1zM14 29h1v1h-1zM29 29h1v1h-1zM4 30h1v1h-1zM3 31h1v1h-1zM10 31h1v1h-1zM36 31h1v1h-1zM17 32h1v1h-1z"/></pattern><pattern id="ncb" patternUnits="userSpaceOnUse" x="0" y="0" width="37" height="33" patternTransform="translate(463 24.5) scale(2.57143 2.08571)"><rect width="37" height="33" fill="#fff"/><path fill="rgb(128,128,128)" d="M27 1h1v1h-1zM17 2h1v1h-1zM36 2h1v1h-1zM15 3h1v1h-1zM3 4h1v1h-1zM21 4h1v1h-1zM2 5h1v1h-1zM6 5h1v1h-1zM33 5h1v1h-1zM34 5h1v1h-1zM0 6h1v1h-1zM28 6h1v1h-1zM35 6h1v1h-1zM3 7h1v1h-1zM13 7h1v1h-1zM33 7h1v1h-1zM5 8h1v1h-1zM6 8h1v1h-1zM30 8h1v1h-1zM32 8h1v1h-1zM36 8h1v1h-1zM2 9h1v1h-1zM22 9h1v1h-1zM4 10h1v1h-1zM6 10h1v1h-1zM34 10h1v1h-1zM10 11h1v1h-1zM15 13h1v1h-1zM16 13h1v1h-1zM24 13h1v1h-1zM32 13h1v1h-1zM0 14h1v1h-1zM7 14h1v1h-1zM8 14h1v1h-1zM27 14h1v1h-1zM3 16h1v1h-1zM28 16h1v1h-1zM29 16h1v1h-1zM33 16h1v1h-1zM34 16h1v1h-1zM3 17h1v1h-1zM19 17h1v1h-1zM24 17h1v1h-1zM6 18h1v1h-1zM14 18h1v1h-1zM22 18h1v1h-1zM21 19h1v1h-1zM10 20h1v1h-1zM11 20h1v1h-1zM20 20h1v1h-1zM21 20h1v1h-1zM28 20h1v1h-1zM12 21h1v1h-1zM30 21h1v1h-1zM14 22h1v1h-1zM20 22h1v1h-1zM36 23h1v1h-1zM23 24h1v1h-1zM16 25h1v1h-1zM20 25h1v1h-1zM21 25h1v1h-1zM17 26h1v1h-1zM23 26h1v1h-1zM33 26h1v1h-1zM2 27h1v1h-1zM19 27h1v1h-1zM23 27h1v1h-1zM13 28h1v1h-1zM22 28h1v1h-1zM6 29h1v1h-1zM25 29h1v1h-1zM29 29h1v1h-1zM3 30h1v1h-1zM19 30h1v1h-1zM20 30h1v1h-1zM26 30h1v1h-1zM16 31h1v1h-1zM17 31h1v1h-1zM0 32h1v1h-1zM12 32h1v1h-1z"/><path fill="rgb(143,143,143)" d="M6 0h1v1h-1zM15 0h1v1h-1zM19 0h1v1h-1zM21 0h1v1h-1zM22 0h1v1h-1zM24 0h1v1h-1zM13 2h1v1h-1zM14 2h1v1h-1zM15 2h1v1h-1zM16 2h1v1h-1zM21 2h1v1h-1zM22 2h1v1h-1zM30 2h1v1h-1zM34 2h1v1h-1zM1 3h1v1h-1zM3 3h1v1h-1zM9 3h1v1h-1zM17 3h1v1h-1zM22 3h1v1h-1zM15 4h1v1h-1zM18 4h1v1h-1zM20 4h1v1h-1zM29 4h1v1h-1zM36 4h1v1h-1zM1 5h1v1h-1zM3 5h1v1h-1zM8 5h1v1h-1zM13 5h1v1h-1zM15 5h1v1h-1zM23 5h1v1h-1zM35 5h1v1h-1zM8 6h1v1h-1zM13 6h1v1h-1zM17 6h1v1h-1zM22 6h1v1h-1zM25 6h1v1h-1zM29 6h1v1h-1zM0 7h1v1h-1zM20 7h1v1h-1zM36 7h1v1h-1zM7 8h1v1h-1zM29 8h1v1h-1zM6 9h1v1h-1zM18 9h1v1h-1zM19 9h1v1h-1zM20 9h1v1h-1zM24 9h1v1h-1zM27 9h1v1h-1zM35 9h1v1h-1zM36 9h1v1h-1zM13 10h1v1h-1zM24 10h1v1h-1zM25 10h1v1h-1zM30 10h1v1h-1zM0 11h1v1h-1zM1 11h1v1h-1zM2 11h1v1h-1zM4 11h1v1h-1zM11 11h1v1h-1zM22 11h1v1h-1zM28 11h1v1h-1zM30 11h1v1h-1zM2 12h1v1h-1zM6 12h1v1h-1zM11 12h1v1h-1zM20 12h1v1h-1zM29 12h1v1h-1zM31 12h1v1h-1zM17 13h1v1h-1zM31 13h1v1h-1zM34 13h1v1h-1zM10 14h1v1h-1zM17 14h1v1h-1zM20 14h1v1h-1zM28 14h1v1h-1zM30 15h1v1h-1zM36 15h1v1h-1zM7 16h1v1h-1zM9 16h1v1h-1zM21 16h1v1h-1zM30 16h1v1h-1zM36 16h1v1h-1zM9 17h1v1h-1zM31 17h1v1h-1zM36 17h1v1h-1zM11 18h1v1h-1zM36 18h1v1h-1zM4 19h1v1h-1zM23 19h1v1h-1zM26 20h1v1h-1zM6 21h1v1h-1zM13 21h1v1h-1zM18 21h1v1h-1zM24 21h1v1h-1zM27 21h1v1h-1zM33 21h1v1h-1zM34 21h1v1h-1zM3 22h1v1h-1zM11 22h1v1h-1zM12 22h1v1h-1zM25 22h1v1h-1zM31 22h1v1h-1zM32 22h1v1h-1zM7 23h1v1h-1zM12 23h1v1h-1zM19 23h1v1h-1zM33 23h1v1h-1zM34 23h1v1h-1zM35 23h1v1h-1zM1 24h1v1h-1zM2 24h1v1h-1zM18 24h1v1h-1zM6 25h1v1h-1zM18 25h1v1h-1zM27 25h1v1h-1zM31 25h1v1h-1zM9 26h1v1h-1zM10 26h1v1h-1zM11 26h1v1h-1zM22 26h1v1h-1zM29 26h1v1h-1zM35 26h1v1h-1zM3 27h1v1h-1zM5 27h1v1h-1zM12 27h1v1h-1zM26 27h1v1h-1zM30 27h1v1h-1zM33 27h1v1h-1zM5 28h1v1h-1zM19 28h1v1h-1zM20 28h1v1h-1zM21 28h1v1h-1zM26 28h1v1h-1zM32 28h1v1h-1zM0 29h1v1h-1zM10 29h1v1h-1zM18 29h1v1h-1zM21 29h1v1h-1zM35 29h1v1h-1zM9 30h1v1h-1zM11 30h1v1h-1zM34 30h1v1h-1zM35 30h1v1h-1zM7 31h1v1h-1zM9 31h1v1h-1zM20 31h1v1h-1zM21 31h1v1h-1zM22 31h1v1h-1zM24 31h1v1h-1zM35 31h1v1h-1zM4 32h1v1h-1zM36 32h1v1h-1z"/><path fill="rgb(159,159,159)" d="M0 0h1v1h-1zM5 0h1v1h-1zM9 0h1v1h-1zM13 0h1v1h-1zM25 0h1v1h-1zM26 0h1v1h-1zM29 0h1v1h-1zM32 0h1v1h-1zM33 0h1v1h-1zM2 1h1v1h-1zM3 1h1v1h-1zM32 1h1v1h-1zM19 2h1v1h-1zM29 2h1v1h-1zM12 3h1v1h-1zM14 3h1v1h-1zM20 3h1v1h-1zM34 3h1v1h-1zM36 3h1v1h-1zM5 4h1v1h-1zM11 4h1v1h-1zM14 4h1v1h-1zM19 4h1v1h-1zM24 4h1v1h-1zM26 4h1v1h-1zM0 5h1v1h-1zM11 5h1v1h-1zM18 5h1v1h-1zM1 6h1v1h-1zM7 6h1v1h-1zM9 6h1v1h-1zM20 6h1v1h-1zM32 6h1v1h-1zM7 7h1v1h-1zM9 7h1v1h-1zM15 7h1v1h-1zM30 7h1v1h-1zM31 7h1v1h-1zM34 7h1v1h-1zM0 8h1v1h-1zM9 8h1v1h-1zM11 8h1v1h-1zM14 8h1v1h-1zM20 8h1v1h-1zM12 9h1v1h-1zM28 9h1v1h-1zM32 9h1v1h-1zM33 9h1v1h-1zM2 10h1v1h-1zM12 10h1v1h-1zM21 10h1v1h-1zM22 10h1v1h-1zM28 10h1v1h-1zM33 10h1v1h-1zM6 11h1v1h-1zM9 11h1v1h-1zM18 11h1v1h-1zM24 11h1v1h-1zM27 11h1v1h-1zM34 11h1v1h-1zM30 12h1v1h-1zM36 12h1v1h-1zM4 13h1v1h-1zM10 13h1v1h-1zM4 14h1v1h-1zM31 14h1v1h-1zM2 15h1v1h-1zM3 15h1v1h-1zM8 15h1v1h-1zM10 15h1v1h-1zM29 15h1v1h-1zM4 16h1v1h-1zM10 16h1v1h-1zM1 17h1v1h-1zM5 18h1v1h-1zM10 18h1v1h-1zM12 18h1v1h-1zM17 18h1v1h-1zM30 18h1v1h-1zM0 19h1v1h-1zM2 19h1v1h-1zM8 19h1v1h-1zM9 19h1v1h-1zM18 19h1v1h-1zM28 19h1v1h-1zM15 20h1v1h-1zM17 20h1v1h-1zM23 20h1v1h-1zM29 20h1v1h-1zM34 20h1v1h-1zM1 21h1v1h-1zM4 21h1v1h-1zM32 21h1v1h-1zM35 21h1v1h-1zM36 21h1v1h-1zM1 22h1v1h-1zM23 22h1v1h-1zM26 22h1v1h-1zM30 22h1v1h-1zM9 23h1v1h-1zM11 23h1v1h-1zM13 23h1v1h-1zM16 23h1v1h-1zM21 23h1v1h-1zM27 23h1v1h-1zM10 24h1v1h-1zM21 24h1v1h-1zM25 24h1v1h-1zM33 24h1v1h-1zM10 25h1v1h-1zM28 25h1v1h-1zM3 26h1v1h-1zM5 26h1v1h-1zM18 26h1v1h-1zM28 26h1v1h-1zM30 26h1v1h-1zM34 26h1v1h-1zM6 27h1v1h-1zM13 27h1v1h-1zM15 27h1v1h-1zM18 27h1v1h-1zM25 27h1v1h-1zM34 27h1v1h-1zM2 28h1v1h-1zM24 28h1v1h-1zM25 28h1v1h-1zM33 28h1v1h-1zM3 29h1v1h-1zM23 29h1v1h-1zM4 30h1v1h-1zM18 30h1v1h-1zM28 30h1v1h-1zM10 31h1v1h-1zM14 31h1v1h-1zM23 31h1v1h-1zM31 31h1v1h-1zM3 32h1v1h-1zM16 32h1v1h-1zM20 32h1v1h-1z"/><path fill="rgb(175,175,175)" d="M14 0h1v1h-1zM20 0h1v1h-1zM27 0h1v1h-1zM31 0h1v1h-1zM17 1h1v1h-1zM18 1h1v1h-1zM22 1h1v1h-1zM28 1h1v1h-1zM33 1h1v1h-1zM6 2h1v1h-1zM7 2h1v1h-1zM12 2h1v1h-1zM18 2h1v1h-1zM27 2h1v1h-1zM28 2h1v1h-1zM6 3h1v1h-1zM21 3h1v1h-1zM23 3h1v1h-1zM32 3h1v1h-1zM35 3h1v1h-1zM0 4h1v1h-1zM17 4h1v1h-1zM25 4h1v1h-1zM30 4h1v1h-1zM34 4h1v1h-1zM35 4h1v1h-1zM7 5h1v1h-1zM9 5h1v1h-1zM16 5h1v1h-1zM17 5h1v1h-1zM21 5h1v1h-1zM28 5h1v1h-1zM31 5h1v1h-1zM4 6h1v1h-1zM11 6h1v1h-1zM21 6h1v1h-1zM23 6h1v1h-1zM1 7h1v1h-1zM5 7h1v1h-1zM19 7h1v1h-1zM25 7h1v1h-1zM26 7h1v1h-1zM32 7h1v1h-1zM35 7h1v1h-1zM3 8h1v1h-1zM22 8h1v1h-1zM27 8h1v1h-1zM31 8h1v1h-1zM11 9h1v1h-1zM31 9h1v1h-1zM5 10h1v1h-1zM8 10h1v1h-1zM11 10h1v1h-1zM17 10h1v1h-1zM18 10h1v1h-1zM12 11h1v1h-1zM15 11h1v1h-1zM29 11h1v1h-1zM35 11h1v1h-1zM3 12h1v1h-1zM22 12h1v1h-1zM27 12h1v1h-1zM32 12h1v1h-1zM0 13h1v1h-1zM1 13h1v1h-1zM5 13h1v1h-1zM8 13h1v1h-1zM12 13h1v1h-1zM28 13h1v1h-1zM30 13h1v1h-1zM33 13h1v1h-1zM3 14h1v1h-1zM5 14h1v1h-1zM9 14h1v1h-1zM11 14h1v1h-1zM23 14h1v1h-1zM26 14h1v1h-1zM34 14h1v1h-1zM4 15h1v1h-1zM7 15h1v1h-1zM9 15h1v1h-1zM14 15h1v1h-1zM19 15h1v1h-1zM13 16h1v1h-1zM17 16h1v1h-1zM20 16h1v1h-1zM23 16h1v1h-1zM25 16h1v1h-1zM35 16h1v1h-1zM5 17h1v1h-1zM12 17h1v1h-1zM15 17h1v1h-1zM22 17h1v1h-1zM33 17h1v1h-1zM34 17h1v1h-1zM18 18h1v1h-1zM11 19h1v1h-1zM24 19h1v1h-1zM25 19h1v1h-1zM29 19h1v1h-1zM33 19h1v1h-1zM3 20h1v1h-1zM13 20h1v1h-1zM24 20h1v1h-1zM32 20h1v1h-1zM36 20h1v1h-1zM0 21h1v1h-1zM9 21h1v1h-1zM19 21h1v1h-1zM21 21h1v1h-1zM25 21h1v1h-1zM26 21h1v1h-1zM28 21h1v1h-1zM2 22h1v1h-1zM8 22h1v1h-1zM19 22h1v1h-1zM22 22h1v1h-1zM27 22h1v1h-1zM0 23h1v1h-1zM3 23h1v1h-1zM3 24h1v1h-1zM6 24h1v1h-1zM9 24h1v1h-1zM14 24h1v1h-1zM28 24h1v1h-1zM30 24h1v1h-1zM15 25h1v1h-1zM23 25h1v1h-1zM4 26h1v1h-1zM14 26h1v1h-1zM15 26h1v1h-1zM26 26h1v1h-1zM0 27h1v1h-1zM4 27h1v1h-1zM31 27h1v1h-1zM35 27h1v1h-1zM36 27h1v1h-1zM9 28h1v1h-1zM11 28h1v1h-1zM14 28h1v1h-1zM27 28h1v1h-1zM2 29h1v1h-1zM4 29h1v1h-1zM11 29h1v1h-1zM12 29h1v1h-1zM20 29h1v1h-1zM0 30h1v1h-1zM5 30h1v1h-1zM6 30h1v1h-1zM16 30h1v1h-1zM17 30h1v1h-1zM32 30h1v1h-1zM36 30h1v1h-1zM1 31h1v1h-1zM6 31h1v1h-1zM25 31h1v1h-1zM27 31h1v1h-1zM28 31h1v1h-1zM30 31h1v1h-1zM34 31h1v1h-1zM13 32h1v1h-1zM14 32h1v1h-1zM15 32h1v1h-1zM23 32h1v1h-1zM25 32h1v1h-1zM28 32h1v1h-1zM35 32h1v1h-1z"/><path fill="rgb(191,191,191)" d="M4 0h1v1h-1zM23 0h1v1h-1zM13 1h1v1h-1zM16 1h1v1h-1zM21 1h1v1h-1zM30 1h1v1h-1zM8 2h1v1h-1zM25 2h1v1h-1zM26 2h1v1h-1zM16 3h1v1h-1zM28 3h1v1h-1zM13 4h1v1h-1zM23 4h1v1h-1zM27 4h1v1h-1zM33 4h1v1h-1zM12 5h1v1h-1zM14 5h1v1h-1zM19 5h1v1h-1zM5 6h1v1h-1zM11 7h1v1h-1zM17 7h1v1h-1zM1 8h1v1h-1zM13 8h1v1h-1zM18 8h1v1h-1zM23 8h1v1h-1zM26 8h1v1h-1zM34 8h1v1h-1zM0 9h1v1h-1zM7 9h1v1h-1zM8 9h1v1h-1zM9 9h1v1h-1zM14 9h1v1h-1zM16 9h1v1h-1zM21 9h1v1h-1zM3 10h1v1h-1zM9 10h1v1h-1zM14 10h1v1h-1zM26 10h1v1h-1zM27 10h1v1h-1zM31 10h1v1h-1zM3 11h1v1h-1zM14 11h1v1h-1zM16 11h1v1h-1zM33 11h1v1h-1zM9 12h1v1h-1zM17 12h1v1h-1zM19 12h1v1h-1zM21 12h1v1h-1zM33 12h1v1h-1zM3 13h1v1h-1zM21 13h1v1h-1zM25 13h1v1h-1zM26 13h1v1h-1zM15 14h1v1h-1zM19 14h1v1h-1zM25 14h1v1h-1zM29 14h1v1h-1zM30 14h1v1h-1zM32 14h1v1h-1zM36 14h1v1h-1zM20 15h1v1h-1zM21 15h1v1h-1zM32 15h1v1h-1zM34 15h1v1h-1zM6 16h1v1h-1zM16 16h1v1h-1zM31 16h1v1h-1zM8 17h1v1h-1zM11 17h1v1h-1zM18 17h1v1h-1zM21 17h1v1h-1zM27 17h1v1h-1zM32 17h1v1h-1zM35 17h1v1h-1zM2 18h1v1h-1zM3 18h1v1h-1zM7 18h1v1h-1zM8 18h1v1h-1zM16 18h1v1h-1zM20 18h1v1h-1zM25 18h1v1h-1zM32 18h1v1h-1zM14 19h1v1h-1zM16 19h1v1h-1zM34 19h1v1h-1zM0 20h1v1h-1zM1 20h1v1h-1zM2 20h1v1h-1zM8 20h1v1h-1zM14 20h1v1h-1zM18 20h1v1h-1zM19 20h1v1h-1zM31 20h1v1h-1zM2 21h1v1h-1zM7 21h1v1h-1zM11 21h1v1h-1zM4 22h1v1h-1zM5 22h1v1h-1zM6 22h1v1h-1zM18 22h1v1h-1zM36 22h1v1h-1zM1 23h1v1h-1zM4 23h1v1h-1zM17 23h1v1h-1zM22 23h1v1h-1zM26 23h1v1h-1zM31 23h1v1h-1zM4 24h1v1h-1zM13 24h1v1h-1zM16 24h1v1h-1zM22 24h1v1h-1zM32 24h1v1h-1zM33 25h1v1h-1zM1 26h1v1h-1zM20 26h1v1h-1zM24 26h1v1h-1zM7 27h1v1h-1zM9 27h1v1h-1zM17 27h1v1h-1zM20 27h1v1h-1zM27 27h1v1h-1zM0 28h1v1h-1zM12 28h1v1h-1zM29 28h1v1h-1zM30 28h1v1h-1zM31 28h1v1h-1zM35 28h1v1h-1zM1 29h1v1h-1zM5 29h1v1h-1zM7 29h1v1h-1zM28 29h1v1h-1zM34 29h1v1h-1zM2 30h1v1h-1zM12 30h1v1h-1zM15 30h1v1h-1zM27 30h1v1h-1zM29 30h1v1h-1zM4 31h1v1h-1zM5 31h1v1h-1zM15 31h1v1h-1zM36 31h1v1h-1zM7 32h1v1h-1zM10 32h1v1h-1zM32 32h1v1h-1z"/><path fill="rgb(207,207,207)" d="M1 0h1v1h-1zM3 0h1v1h-1zM10 0h1v1h-1zM16 0h1v1h-1zM30 0h1v1h-1zM4 1h1v1h-1zM5 1h1v1h-1zM10 1h1v1h-1zM11 1h1v1h-1zM19 1h1v1h-1zM20 1h1v1h-1zM24 1h1v1h-1zM31 1h1v1h-1zM35 1h1v1h-1zM11 2h1v1h-1zM35 2h1v1h-1zM2 3h1v1h-1zM13 3h1v1h-1zM24 3h1v1h-1zM27 3h1v1h-1zM30 3h1v1h-1zM1 4h1v1h-1zM4 4h1v1h-1zM10 4h1v1h-1zM28 4h1v1h-1zM10 5h1v1h-1zM30 5h1v1h-1zM32 5h1v1h-1zM12 6h1v1h-1zM26 6h1v1h-1zM34 6h1v1h-1zM6 7h1v1h-1zM8 7h1v1h-1zM10 7h1v1h-1zM12 7h1v1h-1zM18 7h1v1h-1zM24 7h1v1h-1zM19 8h1v1h-1zM24 8h1v1h-1zM15 9h1v1h-1zM17 9h1v1h-1zM26 9h1v1h-1zM29 9h1v1h-1zM0 10h1v1h-1zM7 10h1v1h-1zM15 10h1v1h-1zM19 10h1v1h-1zM7 11h1v1h-1zM17 11h1v1h-1zM21 11h1v1h-1zM25 11h1v1h-1zM7 12h1v1h-1zM16 12h1v1h-1zM23 12h1v1h-1zM26 12h1v1h-1zM6 13h1v1h-1zM13 13h1v1h-1zM18 13h1v1h-1zM19 13h1v1h-1zM1 14h1v1h-1zM12 14h1v1h-1zM21 14h1v1h-1zM33 14h1v1h-1zM35 14h1v1h-1zM12 15h1v1h-1zM13 15h1v1h-1zM18 15h1v1h-1zM24 15h1v1h-1zM25 15h1v1h-1zM35 15h1v1h-1zM0 16h1v1h-1zM2 17h1v1h-1zM6 17h1v1h-1zM14 17h1v1h-1zM25 17h1v1h-1zM30 17h1v1h-1zM1 18h1v1h-1zM9 18h1v1h-1zM13 18h1v1h-1zM21 18h1v1h-1zM27 18h1v1h-1zM28 18h1v1h-1zM31 18h1v1h-1zM15 19h1v1h-1zM19 19h1v1h-1zM31 19h1v1h-1zM4 20h1v1h-1zM5 20h1v1h-1zM6 20h1v1h-1zM27 20h1v1h-1zM5 21h1v1h-1zM15 21h1v1h-1zM16 21h1v1h-1zM17 21h1v1h-1zM20 21h1v1h-1zM31 21h1v1h-1zM9 22h1v1h-1zM15 22h1v1h-1zM35 22h1v1h-1zM2 23h1v1h-1zM5 23h1v1h-1zM20 23h1v1h-1zM32 23h1v1h-1zM27 24h1v1h-1zM29 24h1v1h-1zM31 24h1v1h-1zM35 24h1v1h-1zM1 25h1v1h-1zM2 25h1v1h-1zM11 25h1v1h-1zM25 25h1v1h-1zM36 25h1v1h-1zM6 26h1v1h-1zM7 26h1v1h-1zM19 26h1v1h-1zM25 26h1v1h-1zM31 26h1v1h-1zM36 26h1v1h-1zM1 27h1v1h-1zM8 27h1v1h-1zM28 27h1v1h-1zM6 28h1v1h-1zM7 28h1v1h-1zM16 28h1v1h-1zM17 28h1v1h-1zM28 28h1v1h-1zM36 28h1v1h-1zM9 29h1v1h-1zM13 29h1v1h-1zM14 29h1v1h-1zM16 29h1v1h-1zM19 29h1v1h-1zM31 29h1v1h-1zM33 29h1v1h-1zM14 30h1v1h-1zM25 30h1v1h-1zM30 30h1v1h-1zM3 31h1v1h-1zM12 31h1v1h-1zM26 31h1v1h-1zM29 31h1v1h-1zM33 31h1v1h-1zM2 32h1v1h-1zM8 32h1v1h-1zM11 32h1v1h-1zM17 32h1v1h-1zM21 32h1v1h-1zM29 32h1v1h-1z"/><path fill="rgb(223,223,223)" d="M8 0h1v1h-1zM11 0h1v1h-1zM18 0h1v1h-1zM34 0h1v1h-1zM36 0h1v1h-1zM1 1h1v1h-1zM6 1h1v1h-1zM8 1h1v1h-1zM12 1h1v1h-1zM14 1h1v1h-1zM23 1h1v1h-1zM29 1h1v1h-1zM9 2h1v1h-1zM0 3h1v1h-1zM8 3h1v1h-1zM19 3h1v1h-1zM31 3h1v1h-1zM7 4h1v1h-1zM12 4h1v1h-1zM22 4h1v1h-1zM32 4h1v1h-1zM20 5h1v1h-1zM24 5h1v1h-1zM27 5h1v1h-1zM29 5h1v1h-1zM2 6h1v1h-1zM10 6h1v1h-1zM24 6h1v1h-1zM27 6h1v1h-1zM30 6h1v1h-1zM36 6h1v1h-1zM14 7h1v1h-1zM22 7h1v1h-1zM27 7h1v1h-1zM29 7h1v1h-1zM2 8h1v1h-1zM8 8h1v1h-1zM10 8h1v1h-1zM12 8h1v1h-1zM1 9h1v1h-1zM3 9h1v1h-1zM34 9h1v1h-1zM1 10h1v1h-1zM16 10h1v1h-1zM20 10h1v1h-1zM29 10h1v1h-1zM35 10h1v1h-1zM36 10h1v1h-1zM5 11h1v1h-1zM8 11h1v1h-1zM23 11h1v1h-1zM26 11h1v1h-1zM32 11h1v1h-1zM4 12h1v1h-1zM5 12h1v1h-1zM12 12h1v1h-1zM14 12h1v1h-1zM18 12h1v1h-1zM25 12h1v1h-1zM35 12h1v1h-1zM11 13h1v1h-1zM14 13h1v1h-1zM22 13h1v1h-1zM27 13h1v1h-1zM35 13h1v1h-1zM14 14h1v1h-1zM18 14h1v1h-1zM22 14h1v1h-1zM0 15h1v1h-1zM1 15h1v1h-1zM11 15h1v1h-1zM17 15h1v1h-1zM22 15h1v1h-1zM27 15h1v1h-1zM1 16h1v1h-1zM8 16h1v1h-1zM19 16h1v1h-1zM22 16h1v1h-1zM24 16h1v1h-1zM26 16h1v1h-1zM7 17h1v1h-1zM10 17h1v1h-1zM13 17h1v1h-1zM16 17h1v1h-1zM20 17h1v1h-1zM26 17h1v1h-1zM28 17h1v1h-1zM19 18h1v1h-1zM23 18h1v1h-1zM26 18h1v1h-1zM29 18h1v1h-1zM33 18h1v1h-1zM1 19h1v1h-1zM5 19h1v1h-1zM7 19h1v1h-1zM12 19h1v1h-1zM30 19h1v1h-1zM32 19h1v1h-1zM35 19h1v1h-1zM36 19h1v1h-1zM9 20h1v1h-1zM30 20h1v1h-1zM29 21h1v1h-1zM28 22h1v1h-1zM29 22h1v1h-1zM33 22h1v1h-1zM34 22h1v1h-1zM24 23h1v1h-1zM28 23h1v1h-1zM7 24h1v1h-1zM8 24h1v1h-1zM17 24h1v1h-1zM19 24h1v1h-1zM24 24h1v1h-1zM26 24h1v1h-1zM34 24h1v1h-1zM36 24h1v1h-1zM3 25h1v1h-1zM8 25h1v1h-1zM19 25h1v1h-1zM24 25h1v1h-1zM35 25h1v1h-1zM2 26h1v1h-1zM8 26h1v1h-1zM27 26h1v1h-1zM32 26h1v1h-1zM10 27h1v1h-1zM11 27h1v1h-1zM16 27h1v1h-1zM21 27h1v1h-1zM22 27h1v1h-1zM32 27h1v1h-1zM1 28h1v1h-1zM4 28h1v1h-1zM10 28h1v1h-1zM15 28h1v1h-1zM23 28h1v1h-1zM34 28h1v1h-1zM15 29h1v1h-1zM24 29h1v1h-1zM27 29h1v1h-1zM10 30h1v1h-1zM22 30h1v1h-1zM23 30h1v1h-1zM31 30h1v1h-1zM0 31h1v1h-1zM18 31h1v1h-1zM19 31h1v1h-1zM5 32h1v1h-1zM9 32h1v1h-1zM30 32h1v1h-1zM31 32h1v1h-1z"/><path fill="rgb(239,239,239)" d="M12 0h1v1h-1zM17 0h1v1h-1zM28 0h1v1h-1zM35 0h1v1h-1zM0 1h1v1h-1zM7 1h1v1h-1zM15 1h1v1h-1zM25 1h1v1h-1zM34 1h1v1h-1zM36 1h1v1h-1zM0 2h1v1h-1zM1 2h1v1h-1zM2 2h1v1h-1zM3 2h1v1h-1zM4 2h1v1h-1zM5 2h1v1h-1zM23 2h1v1h-1zM24 2h1v1h-1zM32 2h1v1h-1zM33 2h1v1h-1zM5 3h1v1h-1zM7 3h1v1h-1zM10 3h1v1h-1zM11 3h1v1h-1zM18 3h1v1h-1zM25 3h1v1h-1zM29 3h1v1h-1zM33 3h1v1h-1zM2 4h1v1h-1zM6 4h1v1h-1zM16 4h1v1h-1zM31 4h1v1h-1zM22 5h1v1h-1zM25 5h1v1h-1zM36 5h1v1h-1zM3 6h1v1h-1zM6 6h1v1h-1zM14 6h1v1h-1zM16 6h1v1h-1zM19 6h1v1h-1zM31 6h1v1h-1zM33 6h1v1h-1zM2 7h1v1h-1zM4 7h1v1h-1zM16 7h1v1h-1zM28 7h1v1h-1zM4 8h1v1h-1zM15 8h1v1h-1zM17 8h1v1h-1zM21 8h1v1h-1zM25 8h1v1h-1zM28 8h1v1h-1zM33 8h1v1h-1zM35 8h1v1h-1zM5 9h1v1h-1zM10 9h1v1h-1zM13 9h1v1h-1zM23 9h1v1h-1zM25 9h1v1h-1zM10 10h1v1h-1zM23 10h1v1h-1zM13 11h1v1h-1zM19 11h1v1h-1zM20 11h1v1h-1zM31 11h1v1h-1zM36 11h1v1h-1zM0 12h1v1h-1zM1 12h1v1h-1zM8 12h1v1h-1zM10 12h1v1h-1zM13 12h1v1h-1zM24 12h1v1h-1zM28 12h1v1h-1zM2 13h1v1h-1zM9 13h1v1h-1zM20 13h1v1h-1zM23 13h1v1h-1zM29 13h1v1h-1zM36 13h1v1h-1zM16 14h1v1h-1zM5 15h1v1h-1zM26 15h1v1h-1zM28 15h1v1h-1zM31 15h1v1h-1zM14 16h1v1h-1zM15 16h1v1h-1zM18 16h1v1h-1zM32 16h1v1h-1zM0 17h1v1h-1zM4 17h1v1h-1zM17 17h1v1h-1zM23 17h1v1h-1zM29 17h1v1h-1zM0 18h1v1h-1zM4 18h1v1h-1zM15 18h1v1h-1zM35 18h1v1h-1zM6 19h1v1h-1zM10 19h1v1h-1zM17 19h1v1h-1zM22 19h1v1h-1zM26 19h1v1h-1zM27 19h1v1h-1zM12 20h1v1h-1zM16 20h1v1h-1zM22 20h1v1h-1zM25 20h1v1h-1zM35 20h1v1h-1zM3 21h1v1h-1zM8 21h1v1h-1zM14 21h1v1h-1zM22 21h1v1h-1zM23 21h1v1h-1zM0 22h1v1h-1zM7 22h1v1h-1zM10 22h1v1h-1zM13 22h1v1h-1zM17 22h1v1h-1zM24 22h1v1h-1zM8 23h1v1h-1zM25 23h1v1h-1zM30 23h1v1h-1zM5 24h1v1h-1zM0 25h1v1h-1zM4 25h1v1h-1zM7 25h1v1h-1zM9 25h1v1h-1zM12 25h1v1h-1zM13 25h1v1h-1zM14 25h1v1h-1zM17 25h1v1h-1zM22 25h1v1h-1zM26 25h1v1h-1zM29 25h1v1h-1zM30 25h1v1h-1zM32 25h1v1h-1zM34 25h1v1h-1zM12 26h1v1h-1zM16 26h1v1h-1zM14 27h1v1h-1zM29 27h1v1h-1zM3 28h1v1h-1zM8 28h1v1h-1zM8 29h1v1h-1zM17 29h1v1h-1zM22 29h1v1h-1zM26 29h1v1h-1zM32 29h1v1h-1zM36 29h1v1h-1zM1 30h1v1h-1zM2 31h1v1h-1zM8 31h1v1h-1zM11 31h1v1h-1zM6 32h1v1h-1zM18 32h1v1h-1zM22 32h1v1h-1zM27 32h1v1h-1zM33 32h1v1h-1zM34 32h1v1h-1z"/></pattern><filter id="cmb" x="0" y="0" width="1" height="1" color-interpolation-filters="sRGB"><feComponentTransfer><feFuncR type="table" tableValues="1.0000 0.7500 0.5000 0.2500 0.0000 0.1895 0.2872 0.3663 0.4353 0.4976 0.5552 0.6090 0.6598 0.7081 0.7543 0.7987 0.8415 0.8829 0.9230 0.9620 1.0000"/><feFuncG type="table" tableValues="1.0000 0.7500 0.5000 0.2500 0.0000 0.0000 0.0000 0.0000 0.0000 0.0000 0.0000 0.0000 0.0000 0.0000 0.0000 0.0000 0.0000 0.0000 0.0000 0.0000 0.0000"/><feFuncB type="table" tableValues="1.0000 1.0000 1.0000 1.0000 1.0000 0.9375 0.8750 0.8125 0.7500 0.6875 0.6250 0.5625 0.5000 0.4375 0.3750 0.3125 0.2500 0.1875 0.1250 0.0625 0.0000"/></feComponentTransfer></filter><clipPath id="cpb"><rect x="463" y="24.5" width="270" height="219"/></clipPath></defs>
<g clip-path="url(#cpb)"><g filter="url(#cmb)"><rect x="463" y="24.5" width="270" height="219" fill="#000"/>
<defs><mask id="mhb" maskUnits="userSpaceOnUse" x="463" y="24.5" width="270" height="219"><rect x="463" y="24.5" width="270" height="219" fill="url(#nhb)"/></mask><mask id="mcb" maskUnits="userSpaceOnUse" x="463" y="24.5" width="270" height="219"><rect x="463" y="24.5" width="270" height="219" fill="url(#ncb)"/></mask></defs>
<g mask="url(#mhb)"><ellipse cx="600.00" cy="115.00" rx="30.00" ry="20.00" fill="#fff" fill-opacity="0.0602" filter="url(#bl_14_12)" transform="rotate(20 600 115)"/><ellipse cx="640.00" cy="133.00" rx="55.00" ry="17.00" fill="#fff" fill-opacity="0.0430" filter="url(#bl_16_12)" transform="rotate(22 640 133)"/><ellipse cx="695.00" cy="146.00" rx="45.00" ry="10.00" fill="#fff" fill-opacity="0.0323" filter="url(#bl_12_8)" transform="rotate(6 695 146)"/><ellipse cx="578.00" cy="150.00" rx="18.00" ry="26.00" fill="#fff" fill-opacity="0.0516" filter="url(#bl_10_10)"/><ellipse cx="612.00" cy="152.00" rx="30.00" ry="18.00" fill="#fff" fill-opacity="0.0344" filter="url(#bl_12_12)"/><ellipse cx="605.00" cy="113.00" rx="30.00" ry="13.00" fill="#fff" fill-opacity="0.0968" filter="url(#bl_9_8)" transform="rotate(18 605 113)"/><ellipse cx="545.50" cy="125.00" rx="16.50" ry="28.60" fill="url(#b9)"/><rect x="594.00" y="182.20" width="46.00" height="28.60" fill="url(#b10)" filter="url(#bl_6_0p01)"/><rect x="635.00" y="182.80" width="75.00" height="26.40" fill="url(#b11)" filter="url(#bl_8_0p01)"/><ellipse cx="612.00" cy="197.00" rx="27.00" ry="9.00" fill="url(#b12)"/></g>
<g mask="url(#mcb)"><ellipse cx="608.00" cy="112.50" rx="34.50" ry="18.90" fill="url(#b6)" transform="rotate(15 608 112.5)"/><ellipse cx="545.40" cy="153.00" rx="18.70" ry="39.60" fill="url(#b7)"/><ellipse cx="545.40" cy="153.00" rx="7.80" ry="18.00" fill="url(#b8)"/></g>
</g></g>
<rect x="50.5" y="24.5" width="270" height="219" fill="none" stroke="#686868" stroke-width="1"/>
<path d="M63.36 243.50v-3M50.50 233.07h3M89.07 243.50v-3M50.50 212.21h3M114.79 243.50v-3M50.50 191.36h3M140.50 243.50v-3M50.50 170.50h3M166.21 243.50v-3M50.50 149.64h3M191.93 243.50v-3M50.50 128.79h3M217.64 243.50v-3M50.50 107.93h3M243.36 243.50v-3M50.50 87.07h3M269.07 243.50v-3M50.50 66.21h3M294.79 243.50v-3M50.50 45.36h3M320.50 243.50v-3M50.50 24.50h3" stroke="#686868" stroke-width="1" fill="none"/>
<text x="63.86" y="254.40" text-anchor="middle" class="tl">0</text>
<text x="46.50" y="236.87" text-anchor="end" class="tl">0</text>
<text x="89.57" y="254.40" text-anchor="middle" class="tl">1</text>
<text x="46.50" y="216.01" text-anchor="end" class="tl">1</text>
<text x="115.29" y="254.40" text-anchor="middle" class="tl">2</text>
<text x="46.50" y="195.16" text-anchor="end" class="tl">2</text>
<text x="141.00" y="254.40" text-anchor="middle" class="tl">3</text>
<text x="46.50" y="174.30" text-anchor="end" class="tl">3</text>
<text x="166.71" y="254.40" text-anchor="middle" class="tl">4</text>
<text x="46.50" y="153.44" text-anchor="end" class="tl">4</text>
<text x="192.43" y="254.40" text-anchor="middle" class="tl">5</text>
<text x="46.50" y="132.59" text-anchor="end" class="tl">5</text>
<text x="218.14" y="254.40" text-anchor="middle" class="tl">6</text>
<text x="46.50" y="111.73" text-anchor="end" class="tl">6</text>
<text x="243.86" y="254.40" text-anchor="middle" class="tl">7</text>
<text x="46.50" y="90.87" text-anchor="end" class="tl">7</text>
<text x="269.57" y="254.40" text-anchor="middle" class="tl">8</text>
<text x="46.50" y="70.01" text-anchor="end" class="tl">8</text>
<text x="295.29" y="254.40" text-anchor="middle" class="tl">9</text>
<text x="46.50" y="49.16" text-anchor="end" class="tl">9</text>
<text x="321.00" y="254.40" text-anchor="middle" class="tl">10</text>
<text x="46.50" y="28.30" text-anchor="end" class="tl">10</text>
<text x="185.50" y="265.5" text-anchor="middle" class="at">distance O3(dk) − N(Q364) [Å]</text>
<text transform="translate(31.80 134.00) rotate(-90)" text-anchor="middle" class="at">distance O3(dk) − H(Y367) [Å]</text>
<ellipse cx="135.8" cy="144.6" rx="14.5" ry="38.2" fill="none" stroke="#d41e30" stroke-width="1.25"/>
<ellipse cx="240.25" cy="197.35" rx="68.05" ry="14.05" fill="none" stroke="#3f68b6" stroke-width="1.2"/>
<rect x="327.5" y="24.5" width="13" height="219" fill="url(#cbg)" stroke="#505050" stroke-width="1"/>
<text x="347.70" y="247.40" class="tl">0</text>
<text x="347.70" y="221.64" class="tl">0.2</text>
<text x="347.70" y="195.87" class="tl">0.4</text>
<text x="347.70" y="170.11" class="tl">0.6</text>
<text x="347.70" y="144.34" class="tl">0.8</text>
<text x="347.70" y="118.58" class="tl">1</text>
<text x="347.70" y="92.81" class="tl">1.2</text>
<text x="347.70" y="67.05" class="tl">1.4</text>
<text x="347.70" y="41.28" class="tl">1.6</text>
<path d="M327.50 243.50h3M340.50 243.50h-3M327.50 217.74h3M340.50 217.74h-3M327.50 191.97h3M340.50 191.97h-3M327.50 166.21h3M340.50 166.21h-3M327.50 140.44h3M340.50 140.44h-3M327.50 114.68h3M340.50 114.68h-3M327.50 88.91h3M340.50 88.91h-3M327.50 63.15h3M340.50 63.15h-3M327.50 37.38h3M340.50 37.38h-3" stroke="#505050" stroke-width="1" fill="none"/>
<text transform="translate(0.90 11.7) scale(0.9 1)" class="pl">A</text>
<rect x="463" y="24.5" width="270" height="219" fill="none" stroke="#686868" stroke-width="1"/>
<path d="M475.86 243.50v-3M463.00 233.07h3M501.57 243.50v-3M463.00 212.21h3M527.29 243.50v-3M463.00 191.36h3M553.00 243.50v-3M463.00 170.50h3M578.71 243.50v-3M463.00 149.64h3M604.43 243.50v-3M463.00 128.79h3M630.14 243.50v-3M463.00 107.93h3M655.86 243.50v-3M463.00 87.07h3M681.57 243.50v-3M463.00 66.21h3M707.29 243.50v-3M463.00 45.36h3M733.00 243.50v-3M463.00 24.50h3" stroke="#686868" stroke-width="1" fill="none"/>
<text x="476.36" y="254.40" text-anchor="middle" class="tl">0</text>
<text x="459.00" y="236.87" text-anchor="end" class="tl">0</text>
<text x="502.07" y="254.40" text-anchor="middle" class="tl">1</text>
<text x="459.00" y="216.01" text-anchor="end" class="tl">1</text>
<text x="527.79" y="254.40" text-anchor="middle" class="tl">2</text>
<text x="459.00" y="195.16" text-anchor="end" class="tl">2</text>
<text x="553.50" y="254.40" text-anchor="middle" class="tl">3</text>
<text x="459.00" y="174.30" text-anchor="end" class="tl">3</text>
<text x="579.21" y="254.40" text-anchor="middle" class="tl">4</text>
<text x="459.00" y="153.44" text-anchor="end" class="tl">4</text>
<text x="604.93" y="254.40" text-anchor="middle" class="tl">5</text>
<text x="459.00" y="132.59" text-anchor="end" class="tl">5</text>
<text x="630.64" y="254.40" text-anchor="middle" class="tl">6</text>
<text x="459.00" y="111.73" text-anchor="end" class="tl">6</text>
<text x="656.36" y="254.40" text-anchor="middle" class="tl">7</text>
<text x="459.00" y="90.87" text-anchor="end" class="tl">7</text>
<text x="682.07" y="254.40" text-anchor="middle" class="tl">8</text>
<text x="459.00" y="70.01" text-anchor="end" class="tl">8</text>
<text x="707.79" y="254.40" text-anchor="middle" class="tl">9</text>
<text x="459.00" y="49.16" text-anchor="end" class="tl">9</text>
<text x="733.50" y="254.40" text-anchor="middle" class="tl">10</text>
<text x="459.00" y="28.30" text-anchor="end" class="tl">10</text>
<text x="598.00" y="265.5" text-anchor="middle" class="at">distance O3(dk) − N(Q364) [Å]</text>
<text transform="translate(444.30 134.00) rotate(-90)" text-anchor="middle" class="at">distance O3(dk) − H(Y367) [Å]</text>
<ellipse cx="548" cy="144.1" rx="14.4" ry="38.2" fill="none" stroke="#d41e30" stroke-width="1.25"/>
<ellipse cx="650.7" cy="195.75" rx="79" ry="14.05" fill="none" stroke="#3f68b6" stroke-width="1.2"/>
<rect x="740" y="24.5" width="13" height="219" fill="url(#cbg)" stroke="#505050" stroke-width="1"/>
<text x="760.20" y="247.40" class="tl">0</text>
<text x="760.20" y="221.64" class="tl">0.2</text>
<text x="760.20" y="195.87" class="tl">0.4</text>
<text x="760.20" y="170.11" class="tl">0.6</text>
<text x="760.20" y="144.34" class="tl">0.8</text>
<text x="760.20" y="118.58" class="tl">1</text>
<text x="760.20" y="92.81" class="tl">1.2</text>
<text x="760.20" y="67.05" class="tl">1.4</text>
<text x="760.20" y="41.28" class="tl">1.6</text>
<path d="M740.00 243.50h3M753.00 243.50h-3M740.00 217.74h3M753.00 217.74h-3M740.00 191.97h3M753.00 191.97h-3M740.00 166.21h3M753.00 166.21h-3M740.00 140.44h3M753.00 140.44h-3M740.00 114.68h3M753.00 114.68h-3M740.00 88.91h3M753.00 88.91h-3M740.00 63.15h3M753.00 63.15h-3M740.00 37.38h3M753.00 37.38h-3" stroke="#505050" stroke-width="1" fill="none"/>
<text transform="translate(413.20 11.7) scale(0.86 1)" class="pl" font-weight="bold">B</text>
</svg>
</body></html>
